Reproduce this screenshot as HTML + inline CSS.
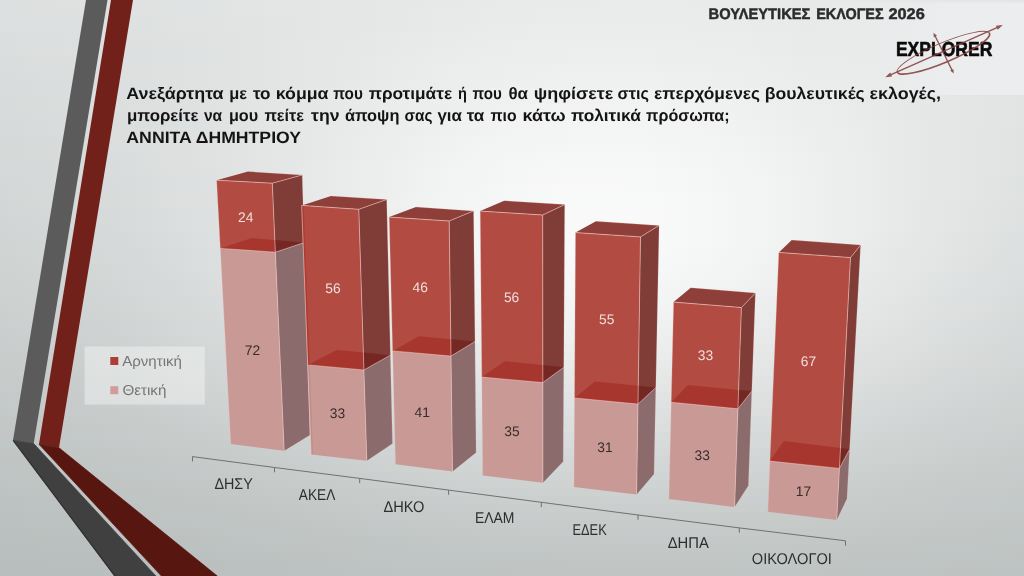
<!DOCTYPE html>
<html lang="el"><head><meta charset="utf-8"><title>ΒΟΥΛΕΥΤΙΚΕΣ ΕΚΛΟΓΕΣ 2026</title>
<style>
html,body{margin:0;padding:0;}
body{width:1024px;height:576px;overflow:hidden;position:relative;font-family:"Liberation Sans",sans-serif;
background:#d6d8d8;}
svg{position:absolute;left:0;top:0;will-change:transform;}
text{font-family:"Liberation Sans",sans-serif;text-rendering:geometricPrecision;}
</style></head><body>
<svg width="1024" height="576" viewBox="0 0 1024 576">
<defs><linearGradient id="b0" x1="0" y1="0" x2="1" y2="0"><stop offset="0.0000" stop-color="#dde0e0"/><stop offset="0.0625" stop-color="#dee1e0"/><stop offset="0.1250" stop-color="#dfe2e1"/><stop offset="0.1875" stop-color="#e1e3e3"/><stop offset="0.2500" stop-color="#e2e5e4"/><stop offset="0.3125" stop-color="#e4e6e6"/><stop offset="0.3750" stop-color="#e6e8e8"/><stop offset="0.4375" stop-color="#e7e9e9"/><stop offset="0.5000" stop-color="#e9ebea"/><stop offset="0.5625" stop-color="#e9ebeb"/><stop offset="0.6250" stop-color="#eaebeb"/><stop offset="0.6875" stop-color="#e9ebeb"/><stop offset="0.7500" stop-color="#e8eaea"/><stop offset="0.8125" stop-color="#e7e9e9"/><stop offset="0.8750" stop-color="#e6e8e8"/><stop offset="0.9375" stop-color="#e5e7e7"/><stop offset="1.0000" stop-color="#e4e6e6"/></linearGradient><linearGradient id="b1" x1="0" y1="0" x2="1" y2="0"><stop offset="0.0000" stop-color="#dde0df"/><stop offset="0.0625" stop-color="#dee0e0"/><stop offset="0.1250" stop-color="#dfe2e1"/><stop offset="0.1875" stop-color="#e0e3e3"/><stop offset="0.2500" stop-color="#e2e5e4"/><stop offset="0.3125" stop-color="#e4e6e6"/><stop offset="0.3750" stop-color="#e6e8e8"/><stop offset="0.4375" stop-color="#e8eae9"/><stop offset="0.5000" stop-color="#e9ebeb"/><stop offset="0.5625" stop-color="#eaeceb"/><stop offset="0.6250" stop-color="#eaeceb"/><stop offset="0.6875" stop-color="#eaebeb"/><stop offset="0.7500" stop-color="#e9ebea"/><stop offset="0.8125" stop-color="#e7e9e9"/><stop offset="0.8750" stop-color="#e6e8e8"/><stop offset="0.9375" stop-color="#e5e7e7"/><stop offset="1.0000" stop-color="#e4e6e6"/></linearGradient><linearGradient id="b2" x1="0" y1="0" x2="1" y2="0"><stop offset="0.0000" stop-color="#dcdfdf"/><stop offset="0.0625" stop-color="#dde0e0"/><stop offset="0.1250" stop-color="#dfe1e1"/><stop offset="0.1875" stop-color="#e0e3e2"/><stop offset="0.2500" stop-color="#e2e4e4"/><stop offset="0.3125" stop-color="#e4e6e6"/><stop offset="0.3750" stop-color="#e6e8e8"/><stop offset="0.4375" stop-color="#e8eaea"/><stop offset="0.5000" stop-color="#e9ebeb"/><stop offset="0.5625" stop-color="#eaecec"/><stop offset="0.6250" stop-color="#eaecec"/><stop offset="0.6875" stop-color="#eaeceb"/><stop offset="0.7500" stop-color="#e9ebea"/><stop offset="0.8125" stop-color="#e8e9e9"/><stop offset="0.8750" stop-color="#e6e8e8"/><stop offset="0.9375" stop-color="#e5e7e7"/><stop offset="1.0000" stop-color="#e4e6e5"/></linearGradient><linearGradient id="b3" x1="0" y1="0" x2="1" y2="0"><stop offset="0.0000" stop-color="#dcdfde"/><stop offset="0.0625" stop-color="#dde0df"/><stop offset="0.1250" stop-color="#dee1e1"/><stop offset="0.1875" stop-color="#e0e3e2"/><stop offset="0.2500" stop-color="#e2e4e4"/><stop offset="0.3125" stop-color="#e4e6e6"/><stop offset="0.3750" stop-color="#e6e8e8"/><stop offset="0.4375" stop-color="#e8eaea"/><stop offset="0.5000" stop-color="#eaeceb"/><stop offset="0.5625" stop-color="#ebecec"/><stop offset="0.6250" stop-color="#ebedec"/><stop offset="0.6875" stop-color="#eaecec"/><stop offset="0.7500" stop-color="#e9ebeb"/><stop offset="0.8125" stop-color="#e8eae9"/><stop offset="0.8750" stop-color="#e6e8e8"/><stop offset="0.9375" stop-color="#e5e7e6"/><stop offset="1.0000" stop-color="#e3e6e5"/></linearGradient><linearGradient id="b4" x1="0" y1="0" x2="1" y2="0"><stop offset="0.0000" stop-color="#dbdede"/><stop offset="0.0625" stop-color="#dddfdf"/><stop offset="0.1250" stop-color="#dee1e0"/><stop offset="0.1875" stop-color="#e0e2e2"/><stop offset="0.2500" stop-color="#e2e4e4"/><stop offset="0.3125" stop-color="#e4e6e6"/><stop offset="0.3750" stop-color="#e7e9e8"/><stop offset="0.4375" stop-color="#e9ebea"/><stop offset="0.5000" stop-color="#eaecec"/><stop offset="0.5625" stop-color="#ebeded"/><stop offset="0.6250" stop-color="#ebeded"/><stop offset="0.6875" stop-color="#ebecec"/><stop offset="0.7500" stop-color="#eaebeb"/><stop offset="0.8125" stop-color="#e8eaea"/><stop offset="0.8750" stop-color="#e6e8e8"/><stop offset="0.9375" stop-color="#e4e7e6"/><stop offset="1.0000" stop-color="#e3e5e5"/></linearGradient><linearGradient id="b5" x1="0" y1="0" x2="1" y2="0"><stop offset="0.0000" stop-color="#dbdede"/><stop offset="0.0625" stop-color="#dcdfdf"/><stop offset="0.1250" stop-color="#dee0e0"/><stop offset="0.1875" stop-color="#e0e2e2"/><stop offset="0.2500" stop-color="#e2e4e4"/><stop offset="0.3125" stop-color="#e4e7e6"/><stop offset="0.3750" stop-color="#e7e9e9"/><stop offset="0.4375" stop-color="#e9ebeb"/><stop offset="0.5000" stop-color="#ebedec"/><stop offset="0.5625" stop-color="#eceded"/><stop offset="0.6250" stop-color="#eceeed"/><stop offset="0.6875" stop-color="#ebeded"/><stop offset="0.7500" stop-color="#eaeceb"/><stop offset="0.8125" stop-color="#e8eaea"/><stop offset="0.8750" stop-color="#e6e8e8"/><stop offset="0.9375" stop-color="#e4e7e6"/><stop offset="1.0000" stop-color="#e3e5e5"/></linearGradient><linearGradient id="b6" x1="0" y1="0" x2="1" y2="0"><stop offset="0.0000" stop-color="#dbdedd"/><stop offset="0.0625" stop-color="#dcdfde"/><stop offset="0.1250" stop-color="#dde0e0"/><stop offset="0.1875" stop-color="#e0e2e2"/><stop offset="0.2500" stop-color="#e2e4e4"/><stop offset="0.3125" stop-color="#e5e7e6"/><stop offset="0.3750" stop-color="#e7e9e9"/><stop offset="0.4375" stop-color="#eaebeb"/><stop offset="0.5000" stop-color="#ebeded"/><stop offset="0.5625" stop-color="#edeeee"/><stop offset="0.6250" stop-color="#edeeee"/><stop offset="0.6875" stop-color="#eceded"/><stop offset="0.7500" stop-color="#eaecec"/><stop offset="0.8125" stop-color="#e8eaea"/><stop offset="0.8750" stop-color="#e6e8e8"/><stop offset="0.9375" stop-color="#e4e7e6"/><stop offset="1.0000" stop-color="#e3e5e5"/></linearGradient><linearGradient id="b7" x1="0" y1="0" x2="1" y2="0"><stop offset="0.0000" stop-color="#dadddd"/><stop offset="0.0625" stop-color="#dcdede"/><stop offset="0.1250" stop-color="#dde0e0"/><stop offset="0.1875" stop-color="#dfe2e2"/><stop offset="0.2500" stop-color="#e2e4e4"/><stop offset="0.3125" stop-color="#e5e7e7"/><stop offset="0.3750" stop-color="#e8eae9"/><stop offset="0.4375" stop-color="#eaecec"/><stop offset="0.5000" stop-color="#eceeed"/><stop offset="0.5625" stop-color="#edefee"/><stop offset="0.6250" stop-color="#edefee"/><stop offset="0.6875" stop-color="#eceeee"/><stop offset="0.7500" stop-color="#ebecec"/><stop offset="0.8125" stop-color="#e9eaea"/><stop offset="0.8750" stop-color="#e6e8e8"/><stop offset="0.9375" stop-color="#e4e6e6"/><stop offset="1.0000" stop-color="#e2e5e4"/></linearGradient><linearGradient id="b8" x1="0" y1="0" x2="1" y2="0"><stop offset="0.0000" stop-color="#dadddc"/><stop offset="0.0625" stop-color="#dbdede"/><stop offset="0.1250" stop-color="#dde0df"/><stop offset="0.1875" stop-color="#dfe2e1"/><stop offset="0.2500" stop-color="#e2e4e4"/><stop offset="0.3125" stop-color="#e5e7e7"/><stop offset="0.3750" stop-color="#e8eaea"/><stop offset="0.4375" stop-color="#ebecec"/><stop offset="0.5000" stop-color="#edeeee"/><stop offset="0.5625" stop-color="#eeefef"/><stop offset="0.6250" stop-color="#eeefef"/><stop offset="0.6875" stop-color="#edeeee"/><stop offset="0.7500" stop-color="#ebeded"/><stop offset="0.8125" stop-color="#e9ebea"/><stop offset="0.8750" stop-color="#e7e9e8"/><stop offset="0.9375" stop-color="#e4e6e6"/><stop offset="1.0000" stop-color="#e2e5e4"/></linearGradient><linearGradient id="b9" x1="0" y1="0" x2="1" y2="0"><stop offset="0.0000" stop-color="#d9dcdc"/><stop offset="0.0625" stop-color="#dbdedd"/><stop offset="0.1250" stop-color="#dde0df"/><stop offset="0.1875" stop-color="#dfe2e1"/><stop offset="0.2500" stop-color="#e2e4e4"/><stop offset="0.3125" stop-color="#e5e7e7"/><stop offset="0.3750" stop-color="#e8eaea"/><stop offset="0.4375" stop-color="#ebeded"/><stop offset="0.5000" stop-color="#edefef"/><stop offset="0.5625" stop-color="#eff0f0"/><stop offset="0.6250" stop-color="#eff0f0"/><stop offset="0.6875" stop-color="#eeefef"/><stop offset="0.7500" stop-color="#eceded"/><stop offset="0.8125" stop-color="#e9ebeb"/><stop offset="0.8750" stop-color="#e7e9e8"/><stop offset="0.9375" stop-color="#e4e6e6"/><stop offset="1.0000" stop-color="#e2e4e4"/></linearGradient><linearGradient id="b10" x1="0" y1="0" x2="1" y2="0"><stop offset="0.0000" stop-color="#d9dcdc"/><stop offset="0.0625" stop-color="#dadddd"/><stop offset="0.1250" stop-color="#dcdfdf"/><stop offset="0.1875" stop-color="#dfe2e1"/><stop offset="0.2500" stop-color="#e2e4e4"/><stop offset="0.3125" stop-color="#e5e7e7"/><stop offset="0.3750" stop-color="#e9ebea"/><stop offset="0.4375" stop-color="#eceded"/><stop offset="0.5000" stop-color="#eeefef"/><stop offset="0.5625" stop-color="#eff1f0"/><stop offset="0.6250" stop-color="#eff1f0"/><stop offset="0.6875" stop-color="#eef0ef"/><stop offset="0.7500" stop-color="#eceeed"/><stop offset="0.8125" stop-color="#eaebeb"/><stop offset="0.8750" stop-color="#e7e9e8"/><stop offset="0.9375" stop-color="#e4e6e6"/><stop offset="1.0000" stop-color="#e2e4e4"/></linearGradient><linearGradient id="b11" x1="0" y1="0" x2="1" y2="0"><stop offset="0.0000" stop-color="#d9dcdb"/><stop offset="0.0625" stop-color="#dadddd"/><stop offset="0.1250" stop-color="#dcdfdf"/><stop offset="0.1875" stop-color="#dfe2e1"/><stop offset="0.2500" stop-color="#e2e4e4"/><stop offset="0.3125" stop-color="#e6e8e7"/><stop offset="0.3750" stop-color="#e9ebeb"/><stop offset="0.4375" stop-color="#eceeee"/><stop offset="0.5000" stop-color="#eff0f0"/><stop offset="0.5625" stop-color="#f0f1f1"/><stop offset="0.6250" stop-color="#f0f1f1"/><stop offset="0.6875" stop-color="#eff0f0"/><stop offset="0.7500" stop-color="#edeeee"/><stop offset="0.8125" stop-color="#eaeceb"/><stop offset="0.8750" stop-color="#e7e9e9"/><stop offset="0.9375" stop-color="#e4e6e6"/><stop offset="1.0000" stop-color="#e2e4e4"/></linearGradient><linearGradient id="b12" x1="0" y1="0" x2="1" y2="0"><stop offset="0.0000" stop-color="#d8dbdb"/><stop offset="0.0625" stop-color="#dadddc"/><stop offset="0.1250" stop-color="#dcdfde"/><stop offset="0.1875" stop-color="#dfe1e1"/><stop offset="0.2500" stop-color="#e2e5e4"/><stop offset="0.3125" stop-color="#e6e8e8"/><stop offset="0.3750" stop-color="#eaebeb"/><stop offset="0.4375" stop-color="#edeeee"/><stop offset="0.5000" stop-color="#eff1f0"/><stop offset="0.5625" stop-color="#f1f2f2"/><stop offset="0.6250" stop-color="#f1f2f2"/><stop offset="0.6875" stop-color="#f0f1f1"/><stop offset="0.7500" stop-color="#edefee"/><stop offset="0.8125" stop-color="#eaecec"/><stop offset="0.8750" stop-color="#e7e9e9"/><stop offset="0.9375" stop-color="#e4e6e6"/><stop offset="1.0000" stop-color="#e2e4e4"/></linearGradient><linearGradient id="b13" x1="0" y1="0" x2="1" y2="0"><stop offset="0.0000" stop-color="#d8dbda"/><stop offset="0.0625" stop-color="#d9dddc"/><stop offset="0.1250" stop-color="#dcdfde"/><stop offset="0.1875" stop-color="#dfe1e1"/><stop offset="0.2500" stop-color="#e2e5e4"/><stop offset="0.3125" stop-color="#e6e8e8"/><stop offset="0.3750" stop-color="#eaeceb"/><stop offset="0.4375" stop-color="#edefef"/><stop offset="0.5000" stop-color="#f0f1f1"/><stop offset="0.5625" stop-color="#f2f3f2"/><stop offset="0.6250" stop-color="#f2f3f2"/><stop offset="0.6875" stop-color="#f0f1f1"/><stop offset="0.7500" stop-color="#eeefef"/><stop offset="0.8125" stop-color="#ebecec"/><stop offset="0.8750" stop-color="#e7e9e9"/><stop offset="0.9375" stop-color="#e4e6e6"/><stop offset="1.0000" stop-color="#e1e4e3"/></linearGradient><linearGradient id="b14" x1="0" y1="0" x2="1" y2="0"><stop offset="0.0000" stop-color="#d7dbda"/><stop offset="0.0625" stop-color="#d9dcdc"/><stop offset="0.1250" stop-color="#dcdede"/><stop offset="0.1875" stop-color="#dfe1e1"/><stop offset="0.2500" stop-color="#e2e5e4"/><stop offset="0.3125" stop-color="#e6e8e8"/><stop offset="0.3750" stop-color="#eaecec"/><stop offset="0.4375" stop-color="#eeefef"/><stop offset="0.5000" stop-color="#f1f2f2"/><stop offset="0.5625" stop-color="#f2f3f3"/><stop offset="0.6250" stop-color="#f2f3f3"/><stop offset="0.6875" stop-color="#f1f2f2"/><stop offset="0.7500" stop-color="#eef0ef"/><stop offset="0.8125" stop-color="#ebedec"/><stop offset="0.8750" stop-color="#e7e9e9"/><stop offset="0.9375" stop-color="#e4e6e6"/><stop offset="1.0000" stop-color="#e1e4e3"/></linearGradient><linearGradient id="b15" x1="0" y1="0" x2="1" y2="0"><stop offset="0.0000" stop-color="#d7dada"/><stop offset="0.0625" stop-color="#d9dcdb"/><stop offset="0.1250" stop-color="#dbdede"/><stop offset="0.1875" stop-color="#dee1e1"/><stop offset="0.2500" stop-color="#e2e5e4"/><stop offset="0.3125" stop-color="#e7e9e8"/><stop offset="0.3750" stop-color="#ebecec"/><stop offset="0.4375" stop-color="#eff0f0"/><stop offset="0.5000" stop-color="#f2f3f2"/><stop offset="0.5625" stop-color="#f3f4f4"/><stop offset="0.6250" stop-color="#f3f4f4"/><stop offset="0.6875" stop-color="#f2f3f2"/><stop offset="0.7500" stop-color="#eff0f0"/><stop offset="0.8125" stop-color="#ebeded"/><stop offset="0.8750" stop-color="#e8eae9"/><stop offset="0.9375" stop-color="#e4e6e6"/><stop offset="1.0000" stop-color="#e1e4e3"/></linearGradient><linearGradient id="b16" x1="0" y1="0" x2="1" y2="0"><stop offset="0.0000" stop-color="#d6dad9"/><stop offset="0.0625" stop-color="#d8dcdb"/><stop offset="0.1250" stop-color="#dbdedd"/><stop offset="0.1875" stop-color="#dee1e1"/><stop offset="0.2500" stop-color="#e2e5e4"/><stop offset="0.3125" stop-color="#e7e9e8"/><stop offset="0.3750" stop-color="#ebeded"/><stop offset="0.4375" stop-color="#eff1f0"/><stop offset="0.5000" stop-color="#f2f3f3"/><stop offset="0.5625" stop-color="#f4f5f5"/><stop offset="0.6250" stop-color="#f4f5f5"/><stop offset="0.6875" stop-color="#f2f3f3"/><stop offset="0.7500" stop-color="#eff1f0"/><stop offset="0.8125" stop-color="#eceded"/><stop offset="0.8750" stop-color="#e8eae9"/><stop offset="0.9375" stop-color="#e4e6e6"/><stop offset="1.0000" stop-color="#e1e3e3"/></linearGradient><linearGradient id="b17" x1="0" y1="0" x2="1" y2="0"><stop offset="0.0000" stop-color="#d6d9d9"/><stop offset="0.0625" stop-color="#d8dbdb"/><stop offset="0.1250" stop-color="#dbdedd"/><stop offset="0.1875" stop-color="#dee1e0"/><stop offset="0.2500" stop-color="#e2e5e4"/><stop offset="0.3125" stop-color="#e7e9e9"/><stop offset="0.3750" stop-color="#eceded"/><stop offset="0.4375" stop-color="#f0f1f1"/><stop offset="0.5000" stop-color="#f3f4f4"/><stop offset="0.5625" stop-color="#f5f5f5"/><stop offset="0.6250" stop-color="#f4f5f5"/><stop offset="0.6875" stop-color="#f3f4f4"/><stop offset="0.7500" stop-color="#f0f1f1"/><stop offset="0.8125" stop-color="#eceeed"/><stop offset="0.8750" stop-color="#e8eae9"/><stop offset="0.9375" stop-color="#e4e6e6"/><stop offset="1.0000" stop-color="#e1e3e3"/></linearGradient><linearGradient id="b18" x1="0" y1="0" x2="1" y2="0"><stop offset="0.0000" stop-color="#d6d9d8"/><stop offset="0.0625" stop-color="#d8dbda"/><stop offset="0.1250" stop-color="#dbdedd"/><stop offset="0.1875" stop-color="#dee1e0"/><stop offset="0.2500" stop-color="#e2e5e4"/><stop offset="0.3125" stop-color="#e7e9e9"/><stop offset="0.3750" stop-color="#eceeed"/><stop offset="0.4375" stop-color="#f0f2f1"/><stop offset="0.5000" stop-color="#f4f4f4"/><stop offset="0.5625" stop-color="#f5f6f6"/><stop offset="0.6250" stop-color="#f5f6f6"/><stop offset="0.6875" stop-color="#f3f4f4"/><stop offset="0.7500" stop-color="#f0f1f1"/><stop offset="0.8125" stop-color="#eceeee"/><stop offset="0.8750" stop-color="#e8eaea"/><stop offset="0.9375" stop-color="#e4e6e6"/><stop offset="1.0000" stop-color="#e1e3e3"/></linearGradient><linearGradient id="b19" x1="0" y1="0" x2="1" y2="0"><stop offset="0.0000" stop-color="#d5d9d8"/><stop offset="0.0625" stop-color="#d7dbda"/><stop offset="0.1250" stop-color="#dadddd"/><stop offset="0.1875" stop-color="#dee1e0"/><stop offset="0.2500" stop-color="#e2e5e4"/><stop offset="0.3125" stop-color="#e7e9e9"/><stop offset="0.3750" stop-color="#eceeee"/><stop offset="0.4375" stop-color="#f1f2f2"/><stop offset="0.5000" stop-color="#f4f5f5"/><stop offset="0.5625" stop-color="#f6f7f7"/><stop offset="0.6250" stop-color="#f6f7f6"/><stop offset="0.6875" stop-color="#f4f5f5"/><stop offset="0.7500" stop-color="#f1f2f2"/><stop offset="0.8125" stop-color="#edeeee"/><stop offset="0.8750" stop-color="#e8eaea"/><stop offset="0.9375" stop-color="#e4e6e6"/><stop offset="1.0000" stop-color="#e0e3e2"/></linearGradient><linearGradient id="b20" x1="0" y1="0" x2="1" y2="0"><stop offset="0.0000" stop-color="#d5d8d8"/><stop offset="0.0625" stop-color="#d7dada"/><stop offset="0.1250" stop-color="#dadddd"/><stop offset="0.1875" stop-color="#dee1e0"/><stop offset="0.2500" stop-color="#e2e5e4"/><stop offset="0.3125" stop-color="#e8e9e9"/><stop offset="0.3750" stop-color="#edeeee"/><stop offset="0.4375" stop-color="#f1f2f2"/><stop offset="0.5000" stop-color="#f5f6f5"/><stop offset="0.5625" stop-color="#f6f7f7"/><stop offset="0.6250" stop-color="#f6f7f7"/><stop offset="0.6875" stop-color="#f4f5f5"/><stop offset="0.7500" stop-color="#f1f2f2"/><stop offset="0.8125" stop-color="#edeeee"/><stop offset="0.8750" stop-color="#e8eaea"/><stop offset="0.9375" stop-color="#e4e6e6"/><stop offset="1.0000" stop-color="#e0e3e2"/></linearGradient><linearGradient id="b21" x1="0" y1="0" x2="1" y2="0"><stop offset="0.0000" stop-color="#d4d8d7"/><stop offset="0.0625" stop-color="#d7dad9"/><stop offset="0.1250" stop-color="#dadddc"/><stop offset="0.1875" stop-color="#dee0e0"/><stop offset="0.2500" stop-color="#e2e5e4"/><stop offset="0.3125" stop-color="#e8eae9"/><stop offset="0.3750" stop-color="#edeeee"/><stop offset="0.4375" stop-color="#f2f3f3"/><stop offset="0.5000" stop-color="#f5f6f6"/><stop offset="0.5625" stop-color="#f7f8f8"/><stop offset="0.6250" stop-color="#f7f8f7"/><stop offset="0.6875" stop-color="#f5f6f6"/><stop offset="0.7500" stop-color="#f1f3f2"/><stop offset="0.8125" stop-color="#edefee"/><stop offset="0.8750" stop-color="#e8eaea"/><stop offset="0.9375" stop-color="#e4e6e6"/><stop offset="1.0000" stop-color="#e0e3e2"/></linearGradient><linearGradient id="b22" x1="0" y1="0" x2="1" y2="0"><stop offset="0.0000" stop-color="#d4d7d7"/><stop offset="0.0625" stop-color="#d6dad9"/><stop offset="0.1250" stop-color="#d9dcdc"/><stop offset="0.1875" stop-color="#dde0e0"/><stop offset="0.2500" stop-color="#e2e5e4"/><stop offset="0.3125" stop-color="#e8eae9"/><stop offset="0.3750" stop-color="#edefee"/><stop offset="0.4375" stop-color="#f2f3f3"/><stop offset="0.5000" stop-color="#f6f6f6"/><stop offset="0.5625" stop-color="#f8f8f8"/><stop offset="0.6250" stop-color="#f7f8f8"/><stop offset="0.6875" stop-color="#f5f6f6"/><stop offset="0.7500" stop-color="#f2f3f3"/><stop offset="0.8125" stop-color="#edefee"/><stop offset="0.8750" stop-color="#e8eaea"/><stop offset="0.9375" stop-color="#e4e6e6"/><stop offset="1.0000" stop-color="#e0e2e2"/></linearGradient><linearGradient id="b23" x1="0" y1="0" x2="1" y2="0"><stop offset="0.0000" stop-color="#d3d7d6"/><stop offset="0.0625" stop-color="#d6d9d9"/><stop offset="0.1250" stop-color="#d9dcdc"/><stop offset="0.1875" stop-color="#dde0e0"/><stop offset="0.2500" stop-color="#e2e5e4"/><stop offset="0.3125" stop-color="#e8eae9"/><stop offset="0.3750" stop-color="#edefef"/><stop offset="0.4375" stop-color="#f2f3f3"/><stop offset="0.5000" stop-color="#f6f7f7"/><stop offset="0.5625" stop-color="#f8f9f8"/><stop offset="0.6250" stop-color="#f8f8f8"/><stop offset="0.6875" stop-color="#f6f6f6"/><stop offset="0.7500" stop-color="#f2f3f3"/><stop offset="0.8125" stop-color="#edefef"/><stop offset="0.8750" stop-color="#e8eaea"/><stop offset="0.9375" stop-color="#e4e6e5"/><stop offset="1.0000" stop-color="#dfe2e2"/></linearGradient><linearGradient id="b24" x1="0" y1="0" x2="1" y2="0"><stop offset="0.0000" stop-color="#d3d7d6"/><stop offset="0.0625" stop-color="#d5d9d8"/><stop offset="0.1250" stop-color="#d9dcdb"/><stop offset="0.1875" stop-color="#dde0df"/><stop offset="0.2500" stop-color="#e2e4e4"/><stop offset="0.3125" stop-color="#e8eae9"/><stop offset="0.3750" stop-color="#edefef"/><stop offset="0.4375" stop-color="#f3f4f3"/><stop offset="0.5000" stop-color="#f6f7f7"/><stop offset="0.5625" stop-color="#f8f9f9"/><stop offset="0.6250" stop-color="#f8f9f9"/><stop offset="0.6875" stop-color="#f6f7f7"/><stop offset="0.7500" stop-color="#f2f3f3"/><stop offset="0.8125" stop-color="#edefef"/><stop offset="0.8750" stop-color="#e8eaea"/><stop offset="0.9375" stop-color="#e3e6e5"/><stop offset="1.0000" stop-color="#dfe2e1"/></linearGradient><linearGradient id="b25" x1="0" y1="0" x2="1" y2="0"><stop offset="0.0000" stop-color="#d3d6d6"/><stop offset="0.0625" stop-color="#d5d9d8"/><stop offset="0.1250" stop-color="#d8dcdb"/><stop offset="0.1875" stop-color="#dde0df"/><stop offset="0.2500" stop-color="#e2e4e4"/><stop offset="0.3125" stop-color="#e8eae9"/><stop offset="0.3750" stop-color="#eeefef"/><stop offset="0.4375" stop-color="#f3f4f4"/><stop offset="0.5000" stop-color="#f7f7f7"/><stop offset="0.5625" stop-color="#f9f9f9"/><stop offset="0.6250" stop-color="#f8f9f9"/><stop offset="0.6875" stop-color="#f6f7f7"/><stop offset="0.7500" stop-color="#f2f3f3"/><stop offset="0.8125" stop-color="#edefef"/><stop offset="0.8750" stop-color="#e8eaea"/><stop offset="0.9375" stop-color="#e3e5e5"/><stop offset="1.0000" stop-color="#dfe2e1"/></linearGradient><linearGradient id="b26" x1="0" y1="0" x2="1" y2="0"><stop offset="0.0000" stop-color="#d2d6d5"/><stop offset="0.0625" stop-color="#d5d8d8"/><stop offset="0.1250" stop-color="#d8dbdb"/><stop offset="0.1875" stop-color="#dcdfdf"/><stop offset="0.2500" stop-color="#e2e4e4"/><stop offset="0.3125" stop-color="#e8eae9"/><stop offset="0.3750" stop-color="#edefef"/><stop offset="0.4375" stop-color="#f3f4f4"/><stop offset="0.5000" stop-color="#f7f7f7"/><stop offset="0.5625" stop-color="#f9f9f9"/><stop offset="0.6250" stop-color="#f9f9f9"/><stop offset="0.6875" stop-color="#f6f7f7"/><stop offset="0.7500" stop-color="#f2f3f3"/><stop offset="0.8125" stop-color="#edefef"/><stop offset="0.8750" stop-color="#e8eaea"/><stop offset="0.9375" stop-color="#e3e5e5"/><stop offset="1.0000" stop-color="#dfe1e1"/></linearGradient><linearGradient id="b27" x1="0" y1="0" x2="1" y2="0"><stop offset="0.0000" stop-color="#d2d5d5"/><stop offset="0.0625" stop-color="#d4d8d7"/><stop offset="0.1250" stop-color="#d8dbda"/><stop offset="0.1875" stop-color="#dcdfdf"/><stop offset="0.2500" stop-color="#e1e4e4"/><stop offset="0.3125" stop-color="#e7e9e9"/><stop offset="0.3750" stop-color="#edefef"/><stop offset="0.4375" stop-color="#f3f4f4"/><stop offset="0.5000" stop-color="#f7f7f7"/><stop offset="0.5625" stop-color="#f9f9f9"/><stop offset="0.6250" stop-color="#f9f9f9"/><stop offset="0.6875" stop-color="#f6f7f7"/><stop offset="0.7500" stop-color="#f2f3f3"/><stop offset="0.8125" stop-color="#edefee"/><stop offset="0.8750" stop-color="#e8eae9"/><stop offset="0.9375" stop-color="#e3e5e5"/><stop offset="1.0000" stop-color="#dee1e0"/></linearGradient><linearGradient id="b28" x1="0" y1="0" x2="1" y2="0"><stop offset="0.0000" stop-color="#d1d5d4"/><stop offset="0.0625" stop-color="#d4d7d7"/><stop offset="0.1250" stop-color="#d7dbda"/><stop offset="0.1875" stop-color="#dcdfde"/><stop offset="0.2500" stop-color="#e1e4e3"/><stop offset="0.3125" stop-color="#e7e9e9"/><stop offset="0.3750" stop-color="#edefee"/><stop offset="0.4375" stop-color="#f3f4f4"/><stop offset="0.5000" stop-color="#f7f7f7"/><stop offset="0.5625" stop-color="#f9f9f9"/><stop offset="0.6250" stop-color="#f9f9f9"/><stop offset="0.6875" stop-color="#f6f7f7"/><stop offset="0.7500" stop-color="#f2f3f3"/><stop offset="0.8125" stop-color="#edefee"/><stop offset="0.8750" stop-color="#e8e9e9"/><stop offset="0.9375" stop-color="#e2e5e4"/><stop offset="1.0000" stop-color="#dee1e0"/></linearGradient><linearGradient id="b29" x1="0" y1="0" x2="1" y2="0"><stop offset="0.0000" stop-color="#d1d4d4"/><stop offset="0.0625" stop-color="#d3d7d6"/><stop offset="0.1250" stop-color="#d7dada"/><stop offset="0.1875" stop-color="#dbdede"/><stop offset="0.2500" stop-color="#e1e3e3"/><stop offset="0.3125" stop-color="#e7e9e9"/><stop offset="0.3750" stop-color="#edefee"/><stop offset="0.4375" stop-color="#f3f4f3"/><stop offset="0.5000" stop-color="#f7f7f7"/><stop offset="0.5625" stop-color="#f9f9f9"/><stop offset="0.6250" stop-color="#f9f9f9"/><stop offset="0.6875" stop-color="#f6f7f7"/><stop offset="0.7500" stop-color="#f2f3f3"/><stop offset="0.8125" stop-color="#edeeee"/><stop offset="0.8750" stop-color="#e7e9e9"/><stop offset="0.9375" stop-color="#e2e4e4"/><stop offset="1.0000" stop-color="#dde0e0"/></linearGradient><linearGradient id="b30" x1="0" y1="0" x2="1" y2="0"><stop offset="0.0000" stop-color="#d0d4d3"/><stop offset="0.0625" stop-color="#d3d6d6"/><stop offset="0.1250" stop-color="#d6dad9"/><stop offset="0.1875" stop-color="#dbdedd"/><stop offset="0.2500" stop-color="#e0e3e3"/><stop offset="0.3125" stop-color="#e7e9e8"/><stop offset="0.3750" stop-color="#edeeee"/><stop offset="0.4375" stop-color="#f2f3f3"/><stop offset="0.5000" stop-color="#f6f7f7"/><stop offset="0.5625" stop-color="#f8f9f9"/><stop offset="0.6250" stop-color="#f8f9f9"/><stop offset="0.6875" stop-color="#f6f7f7"/><stop offset="0.7500" stop-color="#f2f3f3"/><stop offset="0.8125" stop-color="#eceeee"/><stop offset="0.8750" stop-color="#e7e9e9"/><stop offset="0.9375" stop-color="#e2e4e4"/><stop offset="1.0000" stop-color="#dde0df"/></linearGradient><linearGradient id="b31" x1="0" y1="0" x2="1" y2="0"><stop offset="0.0000" stop-color="#d0d4d3"/><stop offset="0.0625" stop-color="#d2d6d5"/><stop offset="0.1250" stop-color="#d6d9d9"/><stop offset="0.1875" stop-color="#dadddd"/><stop offset="0.2500" stop-color="#e0e3e2"/><stop offset="0.3125" stop-color="#e6e8e8"/><stop offset="0.3750" stop-color="#eceeee"/><stop offset="0.4375" stop-color="#f2f3f3"/><stop offset="0.5000" stop-color="#f6f7f7"/><stop offset="0.5625" stop-color="#f8f9f9"/><stop offset="0.6250" stop-color="#f8f9f8"/><stop offset="0.6875" stop-color="#f6f6f6"/><stop offset="0.7500" stop-color="#f1f3f2"/><stop offset="0.8125" stop-color="#eceeed"/><stop offset="0.8750" stop-color="#e6e8e8"/><stop offset="0.9375" stop-color="#e1e4e3"/><stop offset="1.0000" stop-color="#dcdfdf"/></linearGradient><linearGradient id="b32" x1="0" y1="0" x2="1" y2="0"><stop offset="0.0000" stop-color="#cfd3d2"/><stop offset="0.0625" stop-color="#d2d6d5"/><stop offset="0.1250" stop-color="#d5d9d8"/><stop offset="0.1875" stop-color="#dadddd"/><stop offset="0.2500" stop-color="#e0e2e2"/><stop offset="0.3125" stop-color="#e6e8e7"/><stop offset="0.3750" stop-color="#eceded"/><stop offset="0.4375" stop-color="#f1f3f2"/><stop offset="0.5000" stop-color="#f6f6f6"/><stop offset="0.5625" stop-color="#f8f8f8"/><stop offset="0.6250" stop-color="#f8f8f8"/><stop offset="0.6875" stop-color="#f5f6f6"/><stop offset="0.7500" stop-color="#f1f2f2"/><stop offset="0.8125" stop-color="#eceded"/><stop offset="0.8750" stop-color="#e6e8e8"/><stop offset="0.9375" stop-color="#e1e3e3"/><stop offset="1.0000" stop-color="#dcdfde"/></linearGradient><linearGradient id="b33" x1="0" y1="0" x2="1" y2="0"><stop offset="0.0000" stop-color="#cfd3d2"/><stop offset="0.0625" stop-color="#d1d5d4"/><stop offset="0.1250" stop-color="#d5d8d8"/><stop offset="0.1875" stop-color="#d9dddc"/><stop offset="0.2500" stop-color="#dfe2e1"/><stop offset="0.3125" stop-color="#e5e7e7"/><stop offset="0.3750" stop-color="#ebeded"/><stop offset="0.4375" stop-color="#f1f2f2"/><stop offset="0.5000" stop-color="#f5f6f6"/><stop offset="0.5625" stop-color="#f7f8f8"/><stop offset="0.6250" stop-color="#f7f8f8"/><stop offset="0.6875" stop-color="#f5f5f5"/><stop offset="0.7500" stop-color="#f0f2f1"/><stop offset="0.8125" stop-color="#ebedec"/><stop offset="0.8750" stop-color="#e5e8e7"/><stop offset="0.9375" stop-color="#e0e3e2"/><stop offset="1.0000" stop-color="#dbdede"/></linearGradient><linearGradient id="b34" x1="0" y1="0" x2="1" y2="0"><stop offset="0.0000" stop-color="#ced2d1"/><stop offset="0.0625" stop-color="#d1d5d4"/><stop offset="0.1250" stop-color="#d4d8d7"/><stop offset="0.1875" stop-color="#d9dcdc"/><stop offset="0.2500" stop-color="#dee1e1"/><stop offset="0.3125" stop-color="#e5e7e6"/><stop offset="0.3750" stop-color="#ebecec"/><stop offset="0.4375" stop-color="#f0f2f1"/><stop offset="0.5000" stop-color="#f4f5f5"/><stop offset="0.5625" stop-color="#f7f7f7"/><stop offset="0.6250" stop-color="#f6f7f7"/><stop offset="0.6875" stop-color="#f4f5f5"/><stop offset="0.7500" stop-color="#f0f1f1"/><stop offset="0.8125" stop-color="#eaecec"/><stop offset="0.8750" stop-color="#e5e7e7"/><stop offset="0.9375" stop-color="#dfe2e2"/><stop offset="1.0000" stop-color="#dbdedd"/></linearGradient><linearGradient id="b35" x1="0" y1="0" x2="1" y2="0"><stop offset="0.0000" stop-color="#ced2d1"/><stop offset="0.0625" stop-color="#d0d4d3"/><stop offset="0.1250" stop-color="#d4d7d7"/><stop offset="0.1875" stop-color="#d8dbdb"/><stop offset="0.2500" stop-color="#dee1e0"/><stop offset="0.3125" stop-color="#e4e6e6"/><stop offset="0.3750" stop-color="#eaecec"/><stop offset="0.4375" stop-color="#f0f1f1"/><stop offset="0.5000" stop-color="#f4f5f4"/><stop offset="0.5625" stop-color="#f6f7f6"/><stop offset="0.6250" stop-color="#f6f6f6"/><stop offset="0.6875" stop-color="#f3f4f4"/><stop offset="0.7500" stop-color="#eff0f0"/><stop offset="0.8125" stop-color="#eaeceb"/><stop offset="0.8750" stop-color="#e4e6e6"/><stop offset="0.9375" stop-color="#dfe2e1"/><stop offset="1.0000" stop-color="#dadddd"/></linearGradient><linearGradient id="b36" x1="0" y1="0" x2="1" y2="0"><stop offset="0.0000" stop-color="#cdd1d0"/><stop offset="0.0625" stop-color="#d0d3d3"/><stop offset="0.1250" stop-color="#d3d7d6"/><stop offset="0.1875" stop-color="#d8dbda"/><stop offset="0.2500" stop-color="#dde0df"/><stop offset="0.3125" stop-color="#e3e5e5"/><stop offset="0.3750" stop-color="#e9ebeb"/><stop offset="0.4375" stop-color="#eff0f0"/><stop offset="0.5000" stop-color="#f3f4f4"/><stop offset="0.5625" stop-color="#f5f6f6"/><stop offset="0.6250" stop-color="#f5f6f5"/><stop offset="0.6875" stop-color="#f2f3f3"/><stop offset="0.7500" stop-color="#eef0ef"/><stop offset="0.8125" stop-color="#e9ebeb"/><stop offset="0.8750" stop-color="#e3e6e5"/><stop offset="0.9375" stop-color="#dee1e0"/><stop offset="1.0000" stop-color="#dadddc"/></linearGradient><linearGradient id="b37" x1="0" y1="0" x2="1" y2="0"><stop offset="0.0000" stop-color="#ccd1d0"/><stop offset="0.0625" stop-color="#cfd3d2"/><stop offset="0.1250" stop-color="#d2d6d6"/><stop offset="0.1875" stop-color="#d7dada"/><stop offset="0.2500" stop-color="#dcdfdf"/><stop offset="0.3125" stop-color="#e2e5e4"/><stop offset="0.3750" stop-color="#e8eaea"/><stop offset="0.4375" stop-color="#eeefef"/><stop offset="0.5000" stop-color="#f2f3f3"/><stop offset="0.5625" stop-color="#f4f5f5"/><stop offset="0.6250" stop-color="#f4f5f5"/><stop offset="0.6875" stop-color="#f1f3f2"/><stop offset="0.7500" stop-color="#edefef"/><stop offset="0.8125" stop-color="#e8eaea"/><stop offset="0.8750" stop-color="#e3e5e5"/><stop offset="0.9375" stop-color="#dde0e0"/><stop offset="1.0000" stop-color="#d9dcdc"/></linearGradient><linearGradient id="b38" x1="0" y1="0" x2="1" y2="0"><stop offset="0.0000" stop-color="#ccd0cf"/><stop offset="0.0625" stop-color="#ced2d2"/><stop offset="0.1250" stop-color="#d2d6d5"/><stop offset="0.1875" stop-color="#d6dad9"/><stop offset="0.2500" stop-color="#dcdfde"/><stop offset="0.3125" stop-color="#e2e4e4"/><stop offset="0.3750" stop-color="#e8e9e9"/><stop offset="0.4375" stop-color="#edeeee"/><stop offset="0.5000" stop-color="#f1f2f2"/><stop offset="0.5625" stop-color="#f3f4f4"/><stop offset="0.6250" stop-color="#f3f4f4"/><stop offset="0.6875" stop-color="#f0f2f1"/><stop offset="0.7500" stop-color="#eceeee"/><stop offset="0.8125" stop-color="#e7e9e9"/><stop offset="0.8750" stop-color="#e2e4e4"/><stop offset="0.9375" stop-color="#dde0df"/><stop offset="1.0000" stop-color="#d8dcdb"/></linearGradient><linearGradient id="b39" x1="0" y1="0" x2="1" y2="0"><stop offset="0.0000" stop-color="#cbd0cf"/><stop offset="0.0625" stop-color="#ced2d1"/><stop offset="0.1250" stop-color="#d1d5d4"/><stop offset="0.1875" stop-color="#d6d9d8"/><stop offset="0.2500" stop-color="#dbdedd"/><stop offset="0.3125" stop-color="#e1e3e3"/><stop offset="0.3750" stop-color="#e7e9e8"/><stop offset="0.4375" stop-color="#eceded"/><stop offset="0.5000" stop-color="#f0f1f1"/><stop offset="0.5625" stop-color="#f2f3f3"/><stop offset="0.6250" stop-color="#f2f3f2"/><stop offset="0.6875" stop-color="#eff1f0"/><stop offset="0.7500" stop-color="#ebeded"/><stop offset="0.8125" stop-color="#e6e8e8"/><stop offset="0.8750" stop-color="#e1e4e3"/><stop offset="0.9375" stop-color="#dcdfde"/><stop offset="1.0000" stop-color="#d8dbda"/></linearGradient><linearGradient id="b40" x1="0" y1="0" x2="1" y2="0"><stop offset="0.0000" stop-color="#cbcfce"/><stop offset="0.0625" stop-color="#cdd1d1"/><stop offset="0.1250" stop-color="#d0d4d4"/><stop offset="0.1875" stop-color="#d5d8d8"/><stop offset="0.2500" stop-color="#dadddc"/><stop offset="0.3125" stop-color="#e0e2e2"/><stop offset="0.3750" stop-color="#e5e8e7"/><stop offset="0.4375" stop-color="#ebecec"/><stop offset="0.5000" stop-color="#eef0f0"/><stop offset="0.5625" stop-color="#f0f2f1"/><stop offset="0.6250" stop-color="#f0f2f1"/><stop offset="0.6875" stop-color="#eeefef"/><stop offset="0.7500" stop-color="#eaecec"/><stop offset="0.8125" stop-color="#e5e7e7"/><stop offset="0.8750" stop-color="#e0e3e2"/><stop offset="0.9375" stop-color="#dbdede"/><stop offset="1.0000" stop-color="#d7dada"/></linearGradient><linearGradient id="b41" x1="0" y1="0" x2="1" y2="0"><stop offset="0.0000" stop-color="#cacece"/><stop offset="0.0625" stop-color="#ccd1d0"/><stop offset="0.1250" stop-color="#d0d4d3"/><stop offset="0.1875" stop-color="#d4d8d7"/><stop offset="0.2500" stop-color="#d9dcdc"/><stop offset="0.3125" stop-color="#dfe1e1"/><stop offset="0.3750" stop-color="#e4e7e6"/><stop offset="0.4375" stop-color="#e9ebeb"/><stop offset="0.5000" stop-color="#edefee"/><stop offset="0.5625" stop-color="#eff0f0"/><stop offset="0.6250" stop-color="#eff0f0"/><stop offset="0.6875" stop-color="#edeeee"/><stop offset="0.7500" stop-color="#e9ebeb"/><stop offset="0.8125" stop-color="#e4e6e6"/><stop offset="0.8750" stop-color="#dfe2e1"/><stop offset="0.9375" stop-color="#dadddd"/><stop offset="1.0000" stop-color="#d6dad9"/></linearGradient><linearGradient id="b42" x1="0" y1="0" x2="1" y2="0"><stop offset="0.0000" stop-color="#c9cecd"/><stop offset="0.0625" stop-color="#ccd0cf"/><stop offset="0.1250" stop-color="#cfd3d2"/><stop offset="0.1875" stop-color="#d3d7d6"/><stop offset="0.2500" stop-color="#d8dbdb"/><stop offset="0.3125" stop-color="#dee0e0"/><stop offset="0.3750" stop-color="#e3e5e5"/><stop offset="0.4375" stop-color="#e8eaea"/><stop offset="0.5000" stop-color="#eceded"/><stop offset="0.5625" stop-color="#eeefef"/><stop offset="0.6250" stop-color="#eeefef"/><stop offset="0.6875" stop-color="#ebeded"/><stop offset="0.7500" stop-color="#e8eae9"/><stop offset="0.8125" stop-color="#e3e5e5"/><stop offset="0.8750" stop-color="#dee1e0"/><stop offset="0.9375" stop-color="#d9dddc"/><stop offset="1.0000" stop-color="#d5d9d8"/></linearGradient><linearGradient id="b43" x1="0" y1="0" x2="1" y2="0"><stop offset="0.0000" stop-color="#c9cdcd"/><stop offset="0.0625" stop-color="#cbcfcf"/><stop offset="0.1250" stop-color="#ced2d2"/><stop offset="0.1875" stop-color="#d2d6d5"/><stop offset="0.2500" stop-color="#d7dada"/><stop offset="0.3125" stop-color="#dcdfdf"/><stop offset="0.3750" stop-color="#e2e4e4"/><stop offset="0.4375" stop-color="#e7e9e8"/><stop offset="0.5000" stop-color="#eaecec"/><stop offset="0.5625" stop-color="#eceeed"/><stop offset="0.6250" stop-color="#eceeed"/><stop offset="0.6875" stop-color="#eaeceb"/><stop offset="0.7500" stop-color="#e6e8e8"/><stop offset="0.8125" stop-color="#e2e4e4"/><stop offset="0.8750" stop-color="#dde0df"/><stop offset="0.9375" stop-color="#d9dcdb"/><stop offset="1.0000" stop-color="#d5d8d8"/></linearGradient><linearGradient id="b44" x1="0" y1="0" x2="1" y2="0"><stop offset="0.0000" stop-color="#c8cdcc"/><stop offset="0.0625" stop-color="#cacfce"/><stop offset="0.1250" stop-color="#ced2d1"/><stop offset="0.1875" stop-color="#d1d5d5"/><stop offset="0.2500" stop-color="#d6dad9"/><stop offset="0.3125" stop-color="#dbdede"/><stop offset="0.3750" stop-color="#e1e3e3"/><stop offset="0.4375" stop-color="#e5e7e7"/><stop offset="0.5000" stop-color="#e9ebea"/><stop offset="0.5625" stop-color="#ebecec"/><stop offset="0.6250" stop-color="#ebecec"/><stop offset="0.6875" stop-color="#e9eaea"/><stop offset="0.7500" stop-color="#e5e7e7"/><stop offset="0.8125" stop-color="#e1e3e3"/><stop offset="0.8750" stop-color="#dcdfde"/><stop offset="0.9375" stop-color="#d8dbda"/><stop offset="1.0000" stop-color="#d4d7d7"/></linearGradient><linearGradient id="b45" x1="0" y1="0" x2="1" y2="0"><stop offset="0.0000" stop-color="#c8cccb"/><stop offset="0.0625" stop-color="#cacecd"/><stop offset="0.1250" stop-color="#cdd1d0"/><stop offset="0.1875" stop-color="#d1d4d4"/><stop offset="0.2500" stop-color="#d5d9d8"/><stop offset="0.3125" stop-color="#dadddd"/><stop offset="0.3750" stop-color="#dfe2e1"/><stop offset="0.4375" stop-color="#e4e6e6"/><stop offset="0.5000" stop-color="#e7e9e9"/><stop offset="0.5625" stop-color="#e9ebeb"/><stop offset="0.6250" stop-color="#e9ebea"/><stop offset="0.6875" stop-color="#e7e9e9"/><stop offset="0.7500" stop-color="#e4e6e6"/><stop offset="0.8125" stop-color="#dfe2e2"/><stop offset="0.8750" stop-color="#dbdedd"/><stop offset="0.9375" stop-color="#d7dad9"/><stop offset="1.0000" stop-color="#d3d7d6"/></linearGradient><linearGradient id="b46" x1="0" y1="0" x2="1" y2="0"><stop offset="0.0000" stop-color="#c7cccb"/><stop offset="0.0625" stop-color="#c9cecd"/><stop offset="0.1250" stop-color="#ccd0d0"/><stop offset="0.1875" stop-color="#d0d4d3"/><stop offset="0.2500" stop-color="#d4d8d7"/><stop offset="0.3125" stop-color="#d9dcdc"/><stop offset="0.3750" stop-color="#dee1e0"/><stop offset="0.4375" stop-color="#e2e5e4"/><stop offset="0.5000" stop-color="#e6e8e7"/><stop offset="0.5625" stop-color="#e7e9e9"/><stop offset="0.6250" stop-color="#e7e9e9"/><stop offset="0.6875" stop-color="#e5e8e7"/><stop offset="0.7500" stop-color="#e2e5e4"/><stop offset="0.8125" stop-color="#dee1e0"/><stop offset="0.8750" stop-color="#dadddc"/><stop offset="0.9375" stop-color="#d6d9d8"/><stop offset="1.0000" stop-color="#d2d6d5"/></linearGradient><linearGradient id="b47" x1="0" y1="0" x2="1" y2="0"><stop offset="0.0000" stop-color="#c6cbca"/><stop offset="0.0625" stop-color="#c8cdcc"/><stop offset="0.1250" stop-color="#cbcfcf"/><stop offset="0.1875" stop-color="#cfd3d2"/><stop offset="0.2500" stop-color="#d3d7d6"/><stop offset="0.3125" stop-color="#d8dbda"/><stop offset="0.3750" stop-color="#dcdfdf"/><stop offset="0.4375" stop-color="#e1e3e3"/><stop offset="0.5000" stop-color="#e4e6e6"/><stop offset="0.5625" stop-color="#e6e8e7"/><stop offset="0.6250" stop-color="#e6e8e7"/><stop offset="0.6875" stop-color="#e4e6e6"/><stop offset="0.7500" stop-color="#e1e3e3"/><stop offset="0.8125" stop-color="#dde0df"/><stop offset="0.8750" stop-color="#d9dcdb"/><stop offset="0.9375" stop-color="#d5d8d8"/><stop offset="1.0000" stop-color="#d1d5d4"/></linearGradient><linearGradient id="b48" x1="0" y1="0" x2="1" y2="0"><stop offset="0.0000" stop-color="#c6caca"/><stop offset="0.0625" stop-color="#c8cccc"/><stop offset="0.1250" stop-color="#cacfce"/><stop offset="0.1875" stop-color="#ced2d1"/><stop offset="0.2500" stop-color="#d2d6d5"/><stop offset="0.3125" stop-color="#d6dad9"/><stop offset="0.3750" stop-color="#dbdede"/><stop offset="0.4375" stop-color="#dfe2e1"/><stop offset="0.5000" stop-color="#e2e5e4"/><stop offset="0.5625" stop-color="#e4e6e6"/><stop offset="0.6250" stop-color="#e4e6e6"/><stop offset="0.6875" stop-color="#e2e5e4"/><stop offset="0.7500" stop-color="#dfe2e1"/><stop offset="0.8125" stop-color="#dbdede"/><stop offset="0.8750" stop-color="#d7dbda"/><stop offset="0.9375" stop-color="#d4d7d7"/><stop offset="1.0000" stop-color="#d0d4d4"/></linearGradient><linearGradient id="b49" x1="0" y1="0" x2="1" y2="0"><stop offset="0.0000" stop-color="#c5cac9"/><stop offset="0.0625" stop-color="#c7cccb"/><stop offset="0.1250" stop-color="#cacecd"/><stop offset="0.1875" stop-color="#cdd1d0"/><stop offset="0.2500" stop-color="#d1d5d4"/><stop offset="0.3125" stop-color="#d5d9d8"/><stop offset="0.3750" stop-color="#dadddc"/><stop offset="0.4375" stop-color="#dee0e0"/><stop offset="0.5000" stop-color="#e1e3e3"/><stop offset="0.5625" stop-color="#e2e4e4"/><stop offset="0.6250" stop-color="#e2e4e4"/><stop offset="0.6875" stop-color="#e0e3e3"/><stop offset="0.7500" stop-color="#dee0e0"/><stop offset="0.8125" stop-color="#dadddd"/><stop offset="0.8750" stop-color="#d6dad9"/><stop offset="0.9375" stop-color="#d3d6d6"/><stop offset="1.0000" stop-color="#cfd3d3"/></linearGradient><linearGradient id="b50" x1="0" y1="0" x2="1" y2="0"><stop offset="0.0000" stop-color="#c4c9c9"/><stop offset="0.0625" stop-color="#c6cbca"/><stop offset="0.1250" stop-color="#c9cdcd"/><stop offset="0.1875" stop-color="#ccd0cf"/><stop offset="0.2500" stop-color="#d0d4d3"/><stop offset="0.3125" stop-color="#d4d7d7"/><stop offset="0.3750" stop-color="#d8dbdb"/><stop offset="0.4375" stop-color="#dcdfde"/><stop offset="0.5000" stop-color="#dfe1e1"/><stop offset="0.5625" stop-color="#e0e3e2"/><stop offset="0.6250" stop-color="#e0e3e2"/><stop offset="0.6875" stop-color="#dfe1e1"/><stop offset="0.7500" stop-color="#dcdfde"/><stop offset="0.8125" stop-color="#d9dcdb"/><stop offset="0.8750" stop-color="#d5d8d8"/><stop offset="0.9375" stop-color="#d2d5d5"/><stop offset="1.0000" stop-color="#cfd3d2"/></linearGradient><linearGradient id="b51" x1="0" y1="0" x2="1" y2="0"><stop offset="0.0000" stop-color="#c4c9c8"/><stop offset="0.0625" stop-color="#c6caca"/><stop offset="0.1250" stop-color="#c8cdcc"/><stop offset="0.1875" stop-color="#cbcfcf"/><stop offset="0.2500" stop-color="#cfd3d2"/><stop offset="0.3125" stop-color="#d3d6d6"/><stop offset="0.3750" stop-color="#d7dad9"/><stop offset="0.4375" stop-color="#dadddd"/><stop offset="0.5000" stop-color="#dde0df"/><stop offset="0.5625" stop-color="#dee1e1"/><stop offset="0.6250" stop-color="#dee1e1"/><stop offset="0.6875" stop-color="#dde0df"/><stop offset="0.7500" stop-color="#dbdedd"/><stop offset="0.8125" stop-color="#d7dbda"/><stop offset="0.8750" stop-color="#d4d7d7"/><stop offset="0.9375" stop-color="#d1d4d4"/><stop offset="1.0000" stop-color="#ced2d1"/></linearGradient><linearGradient id="b52" x1="0" y1="0" x2="1" y2="0"><stop offset="0.0000" stop-color="#c3c8c7"/><stop offset="0.0625" stop-color="#c5cac9"/><stop offset="0.1250" stop-color="#c7cccb"/><stop offset="0.1875" stop-color="#cacece"/><stop offset="0.2500" stop-color="#ced2d1"/><stop offset="0.3125" stop-color="#d1d5d4"/><stop offset="0.3750" stop-color="#d5d9d8"/><stop offset="0.4375" stop-color="#d9dcdb"/><stop offset="0.5000" stop-color="#dbdede"/><stop offset="0.5625" stop-color="#dddfdf"/><stop offset="0.6250" stop-color="#dde0df"/><stop offset="0.6875" stop-color="#dbdede"/><stop offset="0.7500" stop-color="#d9dcdc"/><stop offset="0.8125" stop-color="#d6d9d9"/><stop offset="0.8750" stop-color="#d3d6d6"/><stop offset="0.9375" stop-color="#cfd3d3"/><stop offset="1.0000" stop-color="#cdd1d0"/></linearGradient><linearGradient id="b53" x1="0" y1="0" x2="1" y2="0"><stop offset="0.0000" stop-color="#c3c8c7"/><stop offset="0.0625" stop-color="#c4c9c8"/><stop offset="0.1250" stop-color="#c6cbca"/><stop offset="0.1875" stop-color="#c9cecd"/><stop offset="0.2500" stop-color="#ccd1d0"/><stop offset="0.3125" stop-color="#d0d4d3"/><stop offset="0.3750" stop-color="#d4d7d7"/><stop offset="0.4375" stop-color="#d7dada"/><stop offset="0.5000" stop-color="#d9dddc"/><stop offset="0.5625" stop-color="#dbdedd"/><stop offset="0.6250" stop-color="#dbdedd"/><stop offset="0.6875" stop-color="#dadddc"/><stop offset="0.7500" stop-color="#d7dbda"/><stop offset="0.8125" stop-color="#d4d8d7"/><stop offset="0.8750" stop-color="#d1d5d5"/><stop offset="0.9375" stop-color="#ced2d2"/><stop offset="1.0000" stop-color="#ccd0cf"/></linearGradient><linearGradient id="b54" x1="0" y1="0" x2="1" y2="0"><stop offset="0.0000" stop-color="#c2c7c6"/><stop offset="0.0625" stop-color="#c3c8c8"/><stop offset="0.1250" stop-color="#c6caca"/><stop offset="0.1875" stop-color="#c8cdcc"/><stop offset="0.2500" stop-color="#cbd0cf"/><stop offset="0.3125" stop-color="#cfd3d2"/><stop offset="0.3750" stop-color="#d2d6d5"/><stop offset="0.4375" stop-color="#d5d9d8"/><stop offset="0.5000" stop-color="#d8dbda"/><stop offset="0.5625" stop-color="#d9dcdc"/><stop offset="0.6250" stop-color="#d9dcdc"/><stop offset="0.6875" stop-color="#d8dbdb"/><stop offset="0.7500" stop-color="#d6d9d9"/><stop offset="0.8125" stop-color="#d3d7d6"/><stop offset="0.8750" stop-color="#d0d4d3"/><stop offset="0.9375" stop-color="#cdd1d1"/><stop offset="1.0000" stop-color="#cbcfcf"/></linearGradient><linearGradient id="b55" x1="0" y1="0" x2="1" y2="0"><stop offset="0.0000" stop-color="#c1c6c6"/><stop offset="0.0625" stop-color="#c3c8c7"/><stop offset="0.1250" stop-color="#c5cac9"/><stop offset="0.1875" stop-color="#c7cccb"/><stop offset="0.2500" stop-color="#cacfce"/><stop offset="0.3125" stop-color="#cdd2d1"/><stop offset="0.3750" stop-color="#d1d5d4"/><stop offset="0.4375" stop-color="#d4d7d7"/><stop offset="0.5000" stop-color="#d6d9d9"/><stop offset="0.5625" stop-color="#d7dbda"/><stop offset="0.6250" stop-color="#d7dbda"/><stop offset="0.6875" stop-color="#d6dad9"/><stop offset="0.7500" stop-color="#d4d8d7"/><stop offset="0.8125" stop-color="#d2d5d5"/><stop offset="0.8750" stop-color="#cfd3d2"/><stop offset="0.9375" stop-color="#ccd1d0"/><stop offset="1.0000" stop-color="#cacfce"/></linearGradient><linearGradient id="b56" x1="0" y1="0" x2="1" y2="0"><stop offset="0.0000" stop-color="#c1c6c5"/><stop offset="0.0625" stop-color="#c2c7c6"/><stop offset="0.1250" stop-color="#c4c9c8"/><stop offset="0.1875" stop-color="#c6cbca"/><stop offset="0.2500" stop-color="#c9cecd"/><stop offset="0.3125" stop-color="#ccd0d0"/><stop offset="0.3750" stop-color="#cfd3d3"/><stop offset="0.4375" stop-color="#d2d6d5"/><stop offset="0.5000" stop-color="#d4d8d7"/><stop offset="0.5625" stop-color="#d5d9d8"/><stop offset="0.6250" stop-color="#d6d9d8"/><stop offset="0.6875" stop-color="#d5d8d7"/><stop offset="0.7500" stop-color="#d3d6d6"/><stop offset="0.8125" stop-color="#d0d4d4"/><stop offset="0.8750" stop-color="#ced2d1"/><stop offset="0.9375" stop-color="#cbd0cf"/><stop offset="1.0000" stop-color="#c9cecd"/></linearGradient><linearGradient id="b57" x1="0" y1="0" x2="1" y2="0"><stop offset="0.0000" stop-color="#c0c5c4"/><stop offset="0.0625" stop-color="#c1c6c6"/><stop offset="0.1250" stop-color="#c3c8c7"/><stop offset="0.1875" stop-color="#c5cac9"/><stop offset="0.2500" stop-color="#c8cdcc"/><stop offset="0.3125" stop-color="#cbcfcf"/><stop offset="0.3750" stop-color="#ced2d1"/><stop offset="0.4375" stop-color="#d1d4d4"/><stop offset="0.5000" stop-color="#d3d6d6"/><stop offset="0.5625" stop-color="#d4d7d7"/><stop offset="0.6250" stop-color="#d4d7d7"/><stop offset="0.6875" stop-color="#d3d7d6"/><stop offset="0.7500" stop-color="#d1d5d4"/><stop offset="0.8125" stop-color="#cfd3d2"/><stop offset="0.8750" stop-color="#cdd1d0"/><stop offset="0.9375" stop-color="#cacfce"/><stop offset="1.0000" stop-color="#c8cdcc"/></linearGradient><linearGradient id="b58" x1="0" y1="0" x2="1" y2="0"><stop offset="0.0000" stop-color="#bfc5c4"/><stop offset="0.0625" stop-color="#c1c6c5"/><stop offset="0.1250" stop-color="#c2c7c7"/><stop offset="0.1875" stop-color="#c4c9c8"/><stop offset="0.2500" stop-color="#c7cccb"/><stop offset="0.3125" stop-color="#cacecd"/><stop offset="0.3750" stop-color="#cdd1d0"/><stop offset="0.4375" stop-color="#cfd3d2"/><stop offset="0.5000" stop-color="#d1d5d4"/><stop offset="0.5625" stop-color="#d2d6d5"/><stop offset="0.6250" stop-color="#d2d6d5"/><stop offset="0.6875" stop-color="#d1d5d4"/><stop offset="0.7500" stop-color="#d0d4d3"/><stop offset="0.8125" stop-color="#ced2d1"/><stop offset="0.8750" stop-color="#cbd0cf"/><stop offset="0.9375" stop-color="#c9cecd"/><stop offset="1.0000" stop-color="#c8cccb"/></linearGradient><linearGradient id="b59" x1="0" y1="0" x2="1" y2="0"><stop offset="0.0000" stop-color="#bfc4c3"/><stop offset="0.0625" stop-color="#c0c5c4"/><stop offset="0.1250" stop-color="#c2c7c6"/><stop offset="0.1875" stop-color="#c4c8c8"/><stop offset="0.2500" stop-color="#c6cbca"/><stop offset="0.3125" stop-color="#c9cdcc"/><stop offset="0.3750" stop-color="#cbcfcf"/><stop offset="0.4375" stop-color="#cdd2d1"/><stop offset="0.5000" stop-color="#cfd3d3"/><stop offset="0.5625" stop-color="#d0d4d4"/><stop offset="0.6250" stop-color="#d0d4d4"/><stop offset="0.6875" stop-color="#d0d4d3"/><stop offset="0.7500" stop-color="#ced2d2"/><stop offset="0.8125" stop-color="#ccd0d0"/><stop offset="0.8750" stop-color="#cacfce"/><stop offset="0.9375" stop-color="#c8cdcc"/><stop offset="1.0000" stop-color="#c7cbcb"/></linearGradient><linearGradient id="b60" x1="0" y1="0" x2="1" y2="0"><stop offset="0.0000" stop-color="#bec4c3"/><stop offset="0.0625" stop-color="#bfc5c4"/><stop offset="0.1250" stop-color="#c1c6c5"/><stop offset="0.1875" stop-color="#c3c8c7"/><stop offset="0.2500" stop-color="#c5cac9"/><stop offset="0.3125" stop-color="#c7cccb"/><stop offset="0.3750" stop-color="#cacecd"/><stop offset="0.4375" stop-color="#ccd0d0"/><stop offset="0.5000" stop-color="#ced2d1"/><stop offset="0.5625" stop-color="#cfd3d2"/><stop offset="0.6250" stop-color="#cfd3d2"/><stop offset="0.6875" stop-color="#ced2d1"/><stop offset="0.7500" stop-color="#cdd1d0"/><stop offset="0.8125" stop-color="#cbcfcf"/><stop offset="0.8750" stop-color="#c9cecd"/><stop offset="0.9375" stop-color="#c7cccb"/><stop offset="1.0000" stop-color="#c6cbca"/></linearGradient><linearGradient id="b61" x1="0" y1="0" x2="1" y2="0"><stop offset="0.0000" stop-color="#bec3c2"/><stop offset="0.0625" stop-color="#bfc4c3"/><stop offset="0.1250" stop-color="#c0c5c4"/><stop offset="0.1875" stop-color="#c2c7c6"/><stop offset="0.2500" stop-color="#c4c9c8"/><stop offset="0.3125" stop-color="#c6cbca"/><stop offset="0.3750" stop-color="#c8cdcc"/><stop offset="0.4375" stop-color="#cbcfce"/><stop offset="0.5000" stop-color="#ccd0d0"/><stop offset="0.5625" stop-color="#cdd1d0"/><stop offset="0.6250" stop-color="#cdd1d1"/><stop offset="0.6875" stop-color="#cdd1d0"/><stop offset="0.7500" stop-color="#cbd0cf"/><stop offset="0.8125" stop-color="#cacecd"/><stop offset="0.8750" stop-color="#c8cdcc"/><stop offset="0.9375" stop-color="#c6cbca"/><stop offset="1.0000" stop-color="#c5cac9"/></linearGradient><linearGradient id="b62" x1="0" y1="0" x2="1" y2="0"><stop offset="0.0000" stop-color="#bdc2c1"/><stop offset="0.0625" stop-color="#bec3c2"/><stop offset="0.1250" stop-color="#bfc5c4"/><stop offset="0.1875" stop-color="#c1c6c5"/><stop offset="0.2500" stop-color="#c3c8c7"/><stop offset="0.3125" stop-color="#c5cac9"/><stop offset="0.3750" stop-color="#c7cccb"/><stop offset="0.4375" stop-color="#c9cecd"/><stop offset="0.5000" stop-color="#cbcfce"/><stop offset="0.5625" stop-color="#cbd0cf"/><stop offset="0.6250" stop-color="#ccd0cf"/><stop offset="0.6875" stop-color="#cbcfcf"/><stop offset="0.7500" stop-color="#cacece"/><stop offset="0.8125" stop-color="#c9cdcc"/><stop offset="0.8750" stop-color="#c7cccb"/><stop offset="0.9375" stop-color="#c5cac9"/><stop offset="1.0000" stop-color="#c4c9c8"/></linearGradient><linearGradient id="b63" x1="0" y1="0" x2="1" y2="0"><stop offset="0.0000" stop-color="#bcc2c1"/><stop offset="0.0625" stop-color="#bdc3c2"/><stop offset="0.1250" stop-color="#bfc4c3"/><stop offset="0.1875" stop-color="#c0c5c4"/><stop offset="0.2500" stop-color="#c2c7c6"/><stop offset="0.3125" stop-color="#c4c9c8"/><stop offset="0.3750" stop-color="#c6cbca"/><stop offset="0.4375" stop-color="#c8cccc"/><stop offset="0.5000" stop-color="#c9cecd"/><stop offset="0.5625" stop-color="#cacece"/><stop offset="0.6250" stop-color="#cacece"/><stop offset="0.6875" stop-color="#cacecd"/><stop offset="0.7500" stop-color="#c9cdcc"/><stop offset="0.8125" stop-color="#c7cccb"/><stop offset="0.8750" stop-color="#c6cbca"/><stop offset="0.9375" stop-color="#c5c9c9"/><stop offset="1.0000" stop-color="#c3c8c8"/></linearGradient><linearGradient id="b64" x1="0" y1="0" x2="1" y2="0"><stop offset="0.0000" stop-color="#bcc1c0"/><stop offset="0.0625" stop-color="#bdc2c1"/><stop offset="0.1250" stop-color="#bec3c2"/><stop offset="0.1875" stop-color="#bfc5c4"/><stop offset="0.2500" stop-color="#c1c6c5"/><stop offset="0.3125" stop-color="#c3c8c7"/><stop offset="0.3750" stop-color="#c5cac9"/><stop offset="0.4375" stop-color="#c6cbca"/><stop offset="0.5000" stop-color="#c8cccc"/><stop offset="0.5625" stop-color="#c8cdcc"/><stop offset="0.6250" stop-color="#c9cdcc"/><stop offset="0.6875" stop-color="#c8cdcc"/><stop offset="0.7500" stop-color="#c7cccb"/><stop offset="0.8125" stop-color="#c6cbca"/><stop offset="0.8750" stop-color="#c5cac9"/><stop offset="0.9375" stop-color="#c4c9c8"/><stop offset="1.0000" stop-color="#c3c8c7"/></linearGradient><linearGradient id="b65" x1="0" y1="0" x2="1" y2="0"><stop offset="0.0000" stop-color="#bbc1c0"/><stop offset="0.0625" stop-color="#bcc2c1"/><stop offset="0.1250" stop-color="#bdc3c2"/><stop offset="0.1875" stop-color="#bec4c3"/><stop offset="0.2500" stop-color="#c0c5c4"/><stop offset="0.3125" stop-color="#c2c7c6"/><stop offset="0.3750" stop-color="#c4c8c8"/><stop offset="0.4375" stop-color="#c5cac9"/><stop offset="0.5000" stop-color="#c6cbca"/><stop offset="0.5625" stop-color="#c7cccb"/><stop offset="0.6250" stop-color="#c7cccb"/><stop offset="0.6875" stop-color="#c7cccb"/><stop offset="0.7500" stop-color="#c6cbca"/><stop offset="0.8125" stop-color="#c5cac9"/><stop offset="0.8750" stop-color="#c4c9c8"/><stop offset="0.9375" stop-color="#c3c8c7"/><stop offset="1.0000" stop-color="#c2c7c6"/></linearGradient><linearGradient id="b66" x1="0" y1="0" x2="1" y2="0"><stop offset="0.0000" stop-color="#bbc0bf"/><stop offset="0.0625" stop-color="#bbc1c0"/><stop offset="0.1250" stop-color="#bcc2c1"/><stop offset="0.1875" stop-color="#bec3c2"/><stop offset="0.2500" stop-color="#bfc4c4"/><stop offset="0.3125" stop-color="#c1c6c5"/><stop offset="0.3750" stop-color="#c2c7c7"/><stop offset="0.4375" stop-color="#c4c9c8"/><stop offset="0.5000" stop-color="#c5cac9"/><stop offset="0.5625" stop-color="#c6caca"/><stop offset="0.6250" stop-color="#c6cbca"/><stop offset="0.6875" stop-color="#c6caca"/><stop offset="0.7500" stop-color="#c5cac9"/><stop offset="0.8125" stop-color="#c4c9c8"/><stop offset="0.8750" stop-color="#c3c8c7"/><stop offset="0.9375" stop-color="#c2c7c6"/><stop offset="1.0000" stop-color="#c1c6c5"/></linearGradient><linearGradient id="b67" x1="0" y1="0" x2="1" y2="0"><stop offset="0.0000" stop-color="#bac0bf"/><stop offset="0.0625" stop-color="#bbc0bf"/><stop offset="0.1250" stop-color="#bcc1c0"/><stop offset="0.1875" stop-color="#bdc2c1"/><stop offset="0.2500" stop-color="#bec4c3"/><stop offset="0.3125" stop-color="#c0c5c4"/><stop offset="0.3750" stop-color="#c1c6c5"/><stop offset="0.4375" stop-color="#c3c8c7"/><stop offset="0.5000" stop-color="#c4c9c8"/><stop offset="0.5625" stop-color="#c4c9c8"/><stop offset="0.6250" stop-color="#c5c9c9"/><stop offset="0.6875" stop-color="#c4c9c8"/><stop offset="0.7500" stop-color="#c4c9c8"/><stop offset="0.8125" stop-color="#c3c8c7"/><stop offset="0.8750" stop-color="#c2c7c6"/><stop offset="0.9375" stop-color="#c1c6c5"/><stop offset="1.0000" stop-color="#c0c6c5"/></linearGradient><linearGradient id="b68" x1="0" y1="0" x2="1" y2="0"><stop offset="0.0000" stop-color="#b9bfbe"/><stop offset="0.0625" stop-color="#bac0bf"/><stop offset="0.1250" stop-color="#bbc1c0"/><stop offset="0.1875" stop-color="#bcc2c1"/><stop offset="0.2500" stop-color="#bdc3c2"/><stop offset="0.3125" stop-color="#bfc4c3"/><stop offset="0.3750" stop-color="#c0c5c4"/><stop offset="0.4375" stop-color="#c1c7c6"/><stop offset="0.5000" stop-color="#c2c7c7"/><stop offset="0.5625" stop-color="#c3c8c7"/><stop offset="0.6250" stop-color="#c3c8c7"/><stop offset="0.6875" stop-color="#c3c8c7"/><stop offset="0.7500" stop-color="#c3c8c7"/><stop offset="0.8125" stop-color="#c2c7c6"/><stop offset="0.8750" stop-color="#c1c6c5"/><stop offset="0.9375" stop-color="#c0c5c5"/><stop offset="1.0000" stop-color="#c0c5c4"/></linearGradient><linearGradient id="b69" x1="0" y1="0" x2="1" y2="0"><stop offset="0.0000" stop-color="#b9bfbe"/><stop offset="0.0625" stop-color="#b9bfbe"/><stop offset="0.1250" stop-color="#bac0bf"/><stop offset="0.1875" stop-color="#bbc1c0"/><stop offset="0.2500" stop-color="#bdc2c1"/><stop offset="0.3125" stop-color="#bec3c2"/><stop offset="0.3750" stop-color="#bfc4c4"/><stop offset="0.4375" stop-color="#c0c5c5"/><stop offset="0.5000" stop-color="#c1c6c5"/><stop offset="0.5625" stop-color="#c2c7c6"/><stop offset="0.6250" stop-color="#c2c7c6"/><stop offset="0.6875" stop-color="#c2c7c6"/><stop offset="0.7500" stop-color="#c1c7c6"/><stop offset="0.8125" stop-color="#c1c6c5"/><stop offset="0.8750" stop-color="#c0c5c4"/><stop offset="0.9375" stop-color="#bfc5c4"/><stop offset="1.0000" stop-color="#bfc4c3"/></linearGradient><linearGradient id="b70" x1="0" y1="0" x2="1" y2="0"><stop offset="0.0000" stop-color="#b8bebd"/><stop offset="0.0625" stop-color="#b9bfbe"/><stop offset="0.1250" stop-color="#babfbe"/><stop offset="0.1875" stop-color="#bbc0bf"/><stop offset="0.2500" stop-color="#bcc1c0"/><stop offset="0.3125" stop-color="#bdc2c1"/><stop offset="0.3750" stop-color="#bec3c3"/><stop offset="0.4375" stop-color="#bfc4c4"/><stop offset="0.5000" stop-color="#c0c5c4"/><stop offset="0.5625" stop-color="#c1c6c5"/><stop offset="0.6250" stop-color="#c1c6c5"/><stop offset="0.6875" stop-color="#c1c6c5"/><stop offset="0.7500" stop-color="#c0c6c5"/><stop offset="0.8125" stop-color="#c0c5c4"/><stop offset="0.8750" stop-color="#bfc4c4"/><stop offset="0.9375" stop-color="#bfc4c3"/><stop offset="1.0000" stop-color="#bec4c3"/></linearGradient><linearGradient id="b71" x1="0" y1="0" x2="1" y2="0"><stop offset="0.0000" stop-color="#b8bdbc"/><stop offset="0.0625" stop-color="#b8bebd"/><stop offset="0.1250" stop-color="#b9bfbe"/><stop offset="0.1875" stop-color="#bac0bf"/><stop offset="0.2500" stop-color="#bbc1c0"/><stop offset="0.3125" stop-color="#bcc2c1"/><stop offset="0.3750" stop-color="#bdc3c2"/><stop offset="0.4375" stop-color="#bec4c3"/><stop offset="0.5000" stop-color="#bfc4c3"/><stop offset="0.5625" stop-color="#c0c5c4"/><stop offset="0.6250" stop-color="#c0c5c4"/><stop offset="0.6875" stop-color="#c0c5c4"/><stop offset="0.7500" stop-color="#bfc5c4"/><stop offset="0.8125" stop-color="#bfc4c3"/><stop offset="0.8750" stop-color="#bec4c3"/><stop offset="0.9375" stop-color="#bec3c2"/><stop offset="1.0000" stop-color="#bdc3c2"/></linearGradient></defs>
<rect x="0" y="0" width="1024" height="9" fill="url(#b0)"/>
<rect x="0" y="8" width="1024" height="9" fill="url(#b1)"/>
<rect x="0" y="16" width="1024" height="9" fill="url(#b2)"/>
<rect x="0" y="24" width="1024" height="9" fill="url(#b3)"/>
<rect x="0" y="32" width="1024" height="9" fill="url(#b4)"/>
<rect x="0" y="40" width="1024" height="9" fill="url(#b5)"/>
<rect x="0" y="48" width="1024" height="9" fill="url(#b6)"/>
<rect x="0" y="56" width="1024" height="9" fill="url(#b7)"/>
<rect x="0" y="64" width="1024" height="9" fill="url(#b8)"/>
<rect x="0" y="72" width="1024" height="9" fill="url(#b9)"/>
<rect x="0" y="80" width="1024" height="9" fill="url(#b10)"/>
<rect x="0" y="88" width="1024" height="9" fill="url(#b11)"/>
<rect x="0" y="96" width="1024" height="9" fill="url(#b12)"/>
<rect x="0" y="104" width="1024" height="9" fill="url(#b13)"/>
<rect x="0" y="112" width="1024" height="9" fill="url(#b14)"/>
<rect x="0" y="120" width="1024" height="9" fill="url(#b15)"/>
<rect x="0" y="128" width="1024" height="9" fill="url(#b16)"/>
<rect x="0" y="136" width="1024" height="9" fill="url(#b17)"/>
<rect x="0" y="144" width="1024" height="9" fill="url(#b18)"/>
<rect x="0" y="152" width="1024" height="9" fill="url(#b19)"/>
<rect x="0" y="160" width="1024" height="9" fill="url(#b20)"/>
<rect x="0" y="168" width="1024" height="9" fill="url(#b21)"/>
<rect x="0" y="176" width="1024" height="9" fill="url(#b22)"/>
<rect x="0" y="184" width="1024" height="9" fill="url(#b23)"/>
<rect x="0" y="192" width="1024" height="9" fill="url(#b24)"/>
<rect x="0" y="200" width="1024" height="9" fill="url(#b25)"/>
<rect x="0" y="208" width="1024" height="9" fill="url(#b26)"/>
<rect x="0" y="216" width="1024" height="9" fill="url(#b27)"/>
<rect x="0" y="224" width="1024" height="9" fill="url(#b28)"/>
<rect x="0" y="232" width="1024" height="9" fill="url(#b29)"/>
<rect x="0" y="240" width="1024" height="9" fill="url(#b30)"/>
<rect x="0" y="248" width="1024" height="9" fill="url(#b31)"/>
<rect x="0" y="256" width="1024" height="9" fill="url(#b32)"/>
<rect x="0" y="264" width="1024" height="9" fill="url(#b33)"/>
<rect x="0" y="272" width="1024" height="9" fill="url(#b34)"/>
<rect x="0" y="280" width="1024" height="9" fill="url(#b35)"/>
<rect x="0" y="288" width="1024" height="9" fill="url(#b36)"/>
<rect x="0" y="296" width="1024" height="9" fill="url(#b37)"/>
<rect x="0" y="304" width="1024" height="9" fill="url(#b38)"/>
<rect x="0" y="312" width="1024" height="9" fill="url(#b39)"/>
<rect x="0" y="320" width="1024" height="9" fill="url(#b40)"/>
<rect x="0" y="328" width="1024" height="9" fill="url(#b41)"/>
<rect x="0" y="336" width="1024" height="9" fill="url(#b42)"/>
<rect x="0" y="344" width="1024" height="9" fill="url(#b43)"/>
<rect x="0" y="352" width="1024" height="9" fill="url(#b44)"/>
<rect x="0" y="360" width="1024" height="9" fill="url(#b45)"/>
<rect x="0" y="368" width="1024" height="9" fill="url(#b46)"/>
<rect x="0" y="376" width="1024" height="9" fill="url(#b47)"/>
<rect x="0" y="384" width="1024" height="9" fill="url(#b48)"/>
<rect x="0" y="392" width="1024" height="9" fill="url(#b49)"/>
<rect x="0" y="400" width="1024" height="9" fill="url(#b50)"/>
<rect x="0" y="408" width="1024" height="9" fill="url(#b51)"/>
<rect x="0" y="416" width="1024" height="9" fill="url(#b52)"/>
<rect x="0" y="424" width="1024" height="9" fill="url(#b53)"/>
<rect x="0" y="432" width="1024" height="9" fill="url(#b54)"/>
<rect x="0" y="440" width="1024" height="9" fill="url(#b55)"/>
<rect x="0" y="448" width="1024" height="9" fill="url(#b56)"/>
<rect x="0" y="456" width="1024" height="9" fill="url(#b57)"/>
<rect x="0" y="464" width="1024" height="9" fill="url(#b58)"/>
<rect x="0" y="472" width="1024" height="9" fill="url(#b59)"/>
<rect x="0" y="480" width="1024" height="9" fill="url(#b60)"/>
<rect x="0" y="488" width="1024" height="9" fill="url(#b61)"/>
<rect x="0" y="496" width="1024" height="9" fill="url(#b62)"/>
<rect x="0" y="504" width="1024" height="9" fill="url(#b63)"/>
<rect x="0" y="512" width="1024" height="9" fill="url(#b64)"/>
<rect x="0" y="520" width="1024" height="9" fill="url(#b65)"/>
<rect x="0" y="528" width="1024" height="9" fill="url(#b66)"/>
<rect x="0" y="536" width="1024" height="9" fill="url(#b67)"/>
<rect x="0" y="544" width="1024" height="9" fill="url(#b68)"/>
<rect x="0" y="552" width="1024" height="9" fill="url(#b69)"/>
<rect x="0" y="560" width="1024" height="9" fill="url(#b70)"/>
<rect x="0" y="568" width="1024" height="9" fill="url(#b71)"/>
<defs><linearGradient id="lb" x1="0" y1="0" x2="1" y2="0"><stop offset="0.35" stop-color="#ecedee" stop-opacity="0"/><stop offset="0.8" stop-color="#ecedee" stop-opacity="1"/><stop offset="1" stop-color="#ecedee" stop-opacity="1"/></linearGradient></defs>
<rect x="690" y="2.4" width="334" height="92.5" fill="url(#lb)"/>
<polygon points="86,0 107.5,0 33.7,443.5 13,440.2" fill="#5b5b5b"/>
<polygon points="111,0 133,0 59,447.8 39,444.3" fill="#71201a"/>
<polygon points="13,440.2 33.7,443.5 155.9,576 114.6,576" fill="#404040" stroke="#404040" stroke-width="0.7" stroke-linejoin="round"/>
<line x1="13.3" y1="440.6" x2="115.2" y2="576.4" stroke="#2c2c2c" stroke-width="1.2" stroke-opacity="0.85"/>
<polygon points="39,444.3 59,447.8 217.3,576 161.4,576" fill="#571710" stroke="#571710" stroke-width="0.7" stroke-linejoin="round"/>
<rect x="84.6" y="346.5" width="120.2" height="58.1" fill="#ffffff" fill-opacity="0.38"/>
<rect x="110.3" y="357" width="8" height="8" fill="#ab3f38"/>
<rect x="110.3" y="386.2" width="8" height="8" fill="#d29c9a"/>
<text x="122.2" y="365.5" font-size="14.4" fill="#757575" textLength="59.8" lengthAdjust="spacingAndGlyphs">Αρνητική</text>
<text x="122.4" y="395.1" font-size="14.4" fill="#757575" textLength="44" lengthAdjust="spacingAndGlyphs">Θετική</text>
<text x="708.6" y="19.4" font-size="15.3" font-weight="bold" fill="#2b2b2b" stroke="#2b2b2b" stroke-width="0.45" stroke-linejoin="round" textLength="101.8" lengthAdjust="spacingAndGlyphs">ΒΟΥΛΕΥΤΙΚΕΣ</text>
<text x="816.2" y="19.4" font-size="15.3" font-weight="bold" fill="#2b2b2b" stroke="#2b2b2b" stroke-width="0.45" stroke-linejoin="round" textLength="67.4" lengthAdjust="spacingAndGlyphs">ΕΚΛΟΓΕΣ</text>
<text x="888.4" y="19.4" font-size="15.3" font-weight="bold" fill="#2b2b2b" stroke="#2b2b2b" stroke-width="0.45" stroke-linejoin="round" textLength="36.4" lengthAdjust="spacingAndGlyphs">2026</text>
<text x="126.3" y="99.4" font-size="16.5" font-weight="bold" fill="#141414" textLength="97.3" lengthAdjust="spacingAndGlyphs">Ανεξάρτητα</text>
<text x="229.3" y="99.4" font-size="16.5" font-weight="bold" fill="#141414" textLength="17.8" lengthAdjust="spacingAndGlyphs">με</text>
<text x="252.9" y="99.4" font-size="16.5" font-weight="bold" fill="#141414" textLength="17.6" lengthAdjust="spacingAndGlyphs">το</text>
<text x="275.8" y="99.4" font-size="16.5" font-weight="bold" fill="#141414" textLength="52.7" lengthAdjust="spacingAndGlyphs">κόμμα</text>
<text x="333.3" y="99.4" font-size="16.5" font-weight="bold" fill="#141414" textLength="29.5" lengthAdjust="spacingAndGlyphs">που</text>
<text x="368.7" y="99.4" font-size="16.5" font-weight="bold" fill="#141414" textLength="83.4" lengthAdjust="spacingAndGlyphs">προτιμάτε</text>
<text x="457.9" y="99.4" font-size="16.5" font-weight="bold" fill="#141414" textLength="8.9" lengthAdjust="spacingAndGlyphs">ή</text>
<text x="472.6" y="99.4" font-size="16.5" font-weight="bold" fill="#141414" textLength="29.2" lengthAdjust="spacingAndGlyphs">που</text>
<text x="508.4" y="99.4" font-size="16.5" font-weight="bold" fill="#141414" textLength="19.6" lengthAdjust="spacingAndGlyphs">θα</text>
<text x="533.8" y="99.4" font-size="16.5" font-weight="bold" fill="#141414" textLength="79.6" lengthAdjust="spacingAndGlyphs">ψηφίσετε</text>
<text x="617.5" y="99.4" font-size="16.5" font-weight="bold" fill="#141414" textLength="31.5" lengthAdjust="spacingAndGlyphs">στις</text>
<text x="654.0" y="99.4" font-size="16.5" font-weight="bold" fill="#141414" textLength="106.0" lengthAdjust="spacingAndGlyphs">επερχόμενες</text>
<text x="764.7" y="99.4" font-size="16.5" font-weight="bold" fill="#141414" textLength="100.1" lengthAdjust="spacingAndGlyphs">βουλευτικές</text>
<text x="869.6" y="99.4" font-size="16.5" font-weight="bold" fill="#141414" textLength="71.3" lengthAdjust="spacingAndGlyphs">εκλογές,</text>
<text x="126.9" y="121.4" font-size="16.5" font-weight="bold" fill="#141414" textLength="71.7" lengthAdjust="spacingAndGlyphs">μπορείτε</text>
<text x="203.9" y="121.4" font-size="16.5" font-weight="bold" fill="#141414" textLength="18.2" lengthAdjust="spacingAndGlyphs">να</text>
<text x="228.9" y="121.4" font-size="16.5" font-weight="bold" fill="#141414" textLength="29.3" lengthAdjust="spacingAndGlyphs">μου</text>
<text x="264.4" y="121.4" font-size="16.5" font-weight="bold" fill="#141414" textLength="39.7" lengthAdjust="spacingAndGlyphs">πείτε</text>
<text x="311.0" y="121.4" font-size="16.5" font-weight="bold" fill="#141414" textLength="28.5" lengthAdjust="spacingAndGlyphs">την</text>
<text x="345.0" y="121.4" font-size="16.5" font-weight="bold" fill="#141414" textLength="54.4" lengthAdjust="spacingAndGlyphs">άποψη</text>
<text x="404.6" y="121.4" font-size="16.5" font-weight="bold" fill="#141414" textLength="28.0" lengthAdjust="spacingAndGlyphs">σας</text>
<text x="437.4" y="121.4" font-size="16.5" font-weight="bold" fill="#141414" textLength="24.5" lengthAdjust="spacingAndGlyphs">για</text>
<text x="466.7" y="121.4" font-size="16.5" font-weight="bold" fill="#141414" textLength="17.6" lengthAdjust="spacingAndGlyphs">τα</text>
<text x="490.5" y="121.4" font-size="16.5" font-weight="bold" fill="#141414" textLength="26.1" lengthAdjust="spacingAndGlyphs">πιο</text>
<text x="522.5" y="121.4" font-size="16.5" font-weight="bold" fill="#141414" textLength="43.0" lengthAdjust="spacingAndGlyphs">κάτω</text>
<text x="570.9" y="121.4" font-size="16.5" font-weight="bold" fill="#141414" textLength="69.9" lengthAdjust="spacingAndGlyphs">πολιτικά</text>
<text x="646.1" y="121.4" font-size="16.5" font-weight="bold" fill="#141414" textLength="83.5" lengthAdjust="spacingAndGlyphs">πρόσωπα;</text>
<text x="126.3" y="143.4" font-size="16.5" font-weight="bold" fill="#141414" textLength="65.6" lengthAdjust="spacingAndGlyphs">ΑΝΝΙΤΑ</text>
<text x="195.8" y="143.4" font-size="16.5" font-weight="bold" fill="#141414" textLength="105.2" lengthAdjust="spacingAndGlyphs">ΔΗΜΗΤΡΙΟΥ</text>
<text x="895.9" y="56.45" font-size="20.4" font-weight="bold" fill="#0a0a0a" stroke="#0a0a0a" stroke-width="0.6" stroke-linejoin="round" textLength="96.4" lengthAdjust="spacingAndGlyphs">EXPLORER</text>
<g opacity="0.88">
<g transform="rotate(-22.8 943.4 52.7)" fill="none" stroke="#87403f" stroke-linecap="round">
<path d="M 893.4 52.7 A 50 9.8 0 0 1 993.4 52.7" stroke-width="0.9"/>
<path d="M 993.4 52.7 A 50 9.8 0 0 1 893.4 52.7" stroke-width="1.7"/>
</g>
<g transform="rotate(-23.9 944 51.1)">
<line x1="883" y1="51.1" x2="1005" y2="51.1" stroke="#87403f" stroke-width="1.4"/>
<polygon points="1008.3,51.1 1001.8,48.9 1001.8,53.3" fill="#87403f"/>
<polygon points="879.7,51.1 886.2,48.9 886.2,53.3" fill="#87403f"/>
</g>
<line x1="934.6" y1="35" x2="952.6" y2="71.4" stroke="#87403f" stroke-width="1.3" stroke-linecap="round"/>
<polygon points="933.5,32.8 933.8,37.4 937.0,35.8" fill="#87403f"/>
<polygon points="953.7,73.6 953.4,69.0 950.2,70.6" fill="#87403f"/>
</g>
<polyline points="192.5,456.6 274.5,467.5 359.7,478.4 448.6,490.1 541.3,502.3 638.0,515.0 739.3,527.9 845.5,540.8" fill="none" stroke="#6c6c6c" stroke-width="0.95"/>
<line x1="192.5" y1="456.6" x2="192.5" y2="461.4" stroke="#6c6c6c" stroke-width="0.95"/>
<line x1="274.5" y1="467.5" x2="274.5" y2="472.3" stroke="#6c6c6c" stroke-width="0.95"/>
<line x1="359.7" y1="478.4" x2="359.7" y2="483.2" stroke="#6c6c6c" stroke-width="0.95"/>
<line x1="448.6" y1="490.1" x2="448.6" y2="494.9" stroke="#6c6c6c" stroke-width="0.95"/>
<line x1="541.3" y1="502.3" x2="541.3" y2="507.1" stroke="#6c6c6c" stroke-width="0.95"/>
<line x1="638.0" y1="515.0" x2="638.0" y2="519.8" stroke="#6c6c6c" stroke-width="0.95"/>
<line x1="739.3" y1="527.9" x2="739.3" y2="532.7" stroke="#6c6c6c" stroke-width="0.95"/>
<line x1="845.5" y1="540.8" x2="845.5" y2="545.6" stroke="#6c6c6c" stroke-width="0.95"/>
<g>
<polygon points="216.6,180.2 272.3,183.2 302.2,175.0 248.1,171.5" fill="#8e3f39"/>
<polygon points="272.3,183.2 302.2,175.0 304.2,242.6 275.4,252.2" fill="#803c36"/>
<polygon points="275.4,252.2 304.2,242.6 310.0,434.9 284.2,450.7" fill="#8c6b6c"/>
<polygon points="216.6,180.2 272.3,183.2 275.4,252.2 220.3,248.4" fill="#b24b42"/>
<polygon points="220.3,248.4 275.4,252.2 284.2,450.7 230.8,444.1" fill="#c99996"/>
<polygon points="220.3,248.4 275.4,252.2 274.8,240.0 252.0,238.0" fill="#a7362f"/>
<polygon points="275.4,252.2 304.2,242.6 274.8,240.0" fill="#752823"/>
<line x1="216.6" y1="180.2" x2="272.3" y2="183.2" stroke="#f0c9c4" stroke-opacity="0.80" stroke-width="0.8"/>
<line x1="272.3" y1="183.2" x2="302.2" y2="175.0" stroke="#f0c9c4" stroke-opacity="0.70" stroke-width="0.8"/>
<line x1="272.3" y1="183.2" x2="284.2" y2="450.7" stroke="#f0c9c4" stroke-opacity="0.75" stroke-width="0.8"/>
<line x1="220.3" y1="248.4" x2="275.4" y2="252.2" stroke="#f0c9c4" stroke-opacity="0.70" stroke-width="0.8"/>
<line x1="275.4" y1="252.2" x2="304.2" y2="242.6" stroke="#f0c9c4" stroke-opacity="0.70" stroke-width="0.8"/>
<line x1="216.6" y1="180.2" x2="230.8" y2="444.1" stroke="#f0c9c4" stroke-opacity="0.35" stroke-width="0.8"/>
<line x1="248.1" y1="171.5" x2="302.2" y2="175.0" stroke="#f0c9c4" stroke-opacity="0.25" stroke-width="0.8"/>
<line x1="302.2" y1="175.0" x2="310.0" y2="434.9" stroke="#f0c9c4" stroke-opacity="0.25" stroke-width="0.8"/>
</g>
<g>
<polygon points="301.7,205.4 358.8,209.3 386.7,199.5 331.0,196.0" fill="#8e3f39"/>
<polygon points="358.8,209.3 386.7,199.5 390.4,355.2 363.9,370.0" fill="#803c36"/>
<polygon points="363.9,370.0 390.4,355.2 392.5,443.6 366.8,460.8" fill="#8c6b6c"/>
<polygon points="301.7,205.4 358.8,209.3 363.9,370.0 307.7,364.9" fill="#b24b42"/>
<polygon points="307.7,364.9 363.9,370.0 366.8,460.8 311.1,454.5" fill="#c99996"/>
<polygon points="307.7,364.9 363.9,370.0 363.4,352.5 336.9,349.9" fill="#a7362f"/>
<polygon points="363.9,370.0 390.4,355.2 363.4,352.5" fill="#752823"/>
<line x1="301.7" y1="205.4" x2="358.8" y2="209.3" stroke="#f0c9c4" stroke-opacity="0.80" stroke-width="0.8"/>
<line x1="358.8" y1="209.3" x2="386.7" y2="199.5" stroke="#f0c9c4" stroke-opacity="0.70" stroke-width="0.8"/>
<line x1="358.8" y1="209.3" x2="366.8" y2="460.8" stroke="#f0c9c4" stroke-opacity="0.75" stroke-width="0.8"/>
<line x1="307.7" y1="364.9" x2="363.9" y2="370.0" stroke="#f0c9c4" stroke-opacity="0.70" stroke-width="0.8"/>
<line x1="363.9" y1="370.0" x2="390.4" y2="355.2" stroke="#f0c9c4" stroke-opacity="0.70" stroke-width="0.8"/>
<line x1="301.7" y1="205.4" x2="311.1" y2="454.5" stroke="#f0c9c4" stroke-opacity="0.35" stroke-width="0.8"/>
<line x1="331.0" y1="196.0" x2="386.7" y2="199.5" stroke="#f0c9c4" stroke-opacity="0.25" stroke-width="0.8"/>
<line x1="386.7" y1="199.5" x2="392.5" y2="443.6" stroke="#f0c9c4" stroke-opacity="0.25" stroke-width="0.8"/>
<line x1="302.9" y1="206.0" x2="308.9" y2="364.9" stroke="#b3392f" stroke-width="1.5"/>
<line x1="308.9" y1="365.4" x2="312.3" y2="454.2" stroke="#bf8d8a" stroke-width="1.5"/>
<line x1="301.7" y1="205.4" x2="311.1" y2="454.5" stroke="#f0c9c4" stroke-opacity="0.60" stroke-width="0.8"/>
</g>
<g>
<polygon points="389.2,217.1 449.2,221.0 473.6,210.9 416.0,207.0" fill="#8e3f39"/>
<polygon points="449.2,221.0 473.6,210.9 475.0,341.5 451.0,356.1" fill="#803c36"/>
<polygon points="451.0,356.1 475.0,341.5 476.1,452.6 452.5,471.5" fill="#8c6b6c"/>
<polygon points="389.2,217.1 449.2,221.0 451.0,356.1 392.6,350.9" fill="#b24b42"/>
<polygon points="392.6,350.9 451.0,356.1 452.5,471.5 395.5,464.3" fill="#c99996"/>
<polygon points="392.6,350.9 451.0,356.1 450.8,339.2 418.9,336.2" fill="#a7362f"/>
<polygon points="451.0,356.1 475.0,341.5 450.8,339.2" fill="#752823"/>
<line x1="389.2" y1="217.1" x2="449.2" y2="221.0" stroke="#f0c9c4" stroke-opacity="0.80" stroke-width="0.8"/>
<line x1="449.2" y1="221.0" x2="473.6" y2="210.9" stroke="#f0c9c4" stroke-opacity="0.70" stroke-width="0.8"/>
<line x1="449.2" y1="221.0" x2="452.5" y2="471.5" stroke="#f0c9c4" stroke-opacity="0.75" stroke-width="0.8"/>
<line x1="392.6" y1="350.9" x2="451.0" y2="356.1" stroke="#f0c9c4" stroke-opacity="0.70" stroke-width="0.8"/>
<line x1="451.0" y1="356.1" x2="475.0" y2="341.5" stroke="#f0c9c4" stroke-opacity="0.70" stroke-width="0.8"/>
<line x1="389.2" y1="217.1" x2="395.5" y2="464.3" stroke="#f0c9c4" stroke-opacity="0.35" stroke-width="0.8"/>
<line x1="416.0" y1="207.0" x2="473.6" y2="210.9" stroke="#f0c9c4" stroke-opacity="0.25" stroke-width="0.8"/>
<line x1="473.6" y1="210.9" x2="476.1" y2="452.6" stroke="#f0c9c4" stroke-opacity="0.25" stroke-width="0.8"/>
</g>
<g>
<polygon points="480.2,211.1 542.7,215.0 564.7,204.6 504.2,200.7" fill="#8e3f39"/>
<polygon points="542.7,215.0 564.7,204.6 563.8,367.3 542.8,382.6" fill="#803c36"/>
<polygon points="542.8,382.6 563.8,367.3 563.2,461.6 542.9,482.7" fill="#8c6b6c"/>
<polygon points="480.2,211.1 542.7,215.0 542.8,382.6 481.8,377.1" fill="#b24b42"/>
<polygon points="481.8,377.1 542.8,382.6 542.9,482.7 482.7,475.5" fill="#c99996"/>
<polygon points="481.8,377.1 542.8,382.6 542.8,365.1 505.2,361.1" fill="#a7362f"/>
<polygon points="542.8,382.6 563.8,367.3 542.8,365.1" fill="#752823"/>
<line x1="480.2" y1="211.1" x2="542.7" y2="215.0" stroke="#f0c9c4" stroke-opacity="0.80" stroke-width="0.8"/>
<line x1="542.7" y1="215.0" x2="564.7" y2="204.6" stroke="#f0c9c4" stroke-opacity="0.70" stroke-width="0.8"/>
<line x1="542.7" y1="215.0" x2="542.9" y2="482.7" stroke="#f0c9c4" stroke-opacity="0.75" stroke-width="0.8"/>
<line x1="481.8" y1="377.1" x2="542.8" y2="382.6" stroke="#f0c9c4" stroke-opacity="0.70" stroke-width="0.8"/>
<line x1="542.8" y1="382.6" x2="563.8" y2="367.3" stroke="#f0c9c4" stroke-opacity="0.70" stroke-width="0.8"/>
<line x1="480.2" y1="211.1" x2="482.7" y2="475.5" stroke="#f0c9c4" stroke-opacity="0.35" stroke-width="0.8"/>
<line x1="504.2" y1="200.7" x2="564.7" y2="204.6" stroke="#f0c9c4" stroke-opacity="0.25" stroke-width="0.8"/>
<line x1="564.7" y1="204.6" x2="563.2" y2="461.6" stroke="#f0c9c4" stroke-opacity="0.25" stroke-width="0.8"/>
</g>
<g>
<polygon points="575.5,232.6 640.5,236.9 659.1,225.5 596.0,221.3" fill="#8e3f39"/>
<polygon points="640.5,236.9 659.1,225.5 655.8,387.5 638.0,404.1" fill="#803c36"/>
<polygon points="638.0,404.1 655.8,387.5 654.0,473.9 636.6,494.5" fill="#8c6b6c"/>
<polygon points="575.5,232.6 640.5,236.9 638.0,404.1 574.5,398.0" fill="#b24b42"/>
<polygon points="574.5,398.0 638.0,404.1 636.6,494.5 573.9,487.0" fill="#c99996"/>
<polygon points="574.5,398.0 638.0,404.1 638.2,385.7 595.0,381.4" fill="#a7362f"/>
<polygon points="638.0,404.1 655.8,387.5 638.2,385.7" fill="#752823"/>
<line x1="575.5" y1="232.6" x2="640.5" y2="236.9" stroke="#f0c9c4" stroke-opacity="0.80" stroke-width="0.8"/>
<line x1="640.5" y1="236.9" x2="659.1" y2="225.5" stroke="#f0c9c4" stroke-opacity="0.70" stroke-width="0.8"/>
<line x1="640.5" y1="236.9" x2="636.6" y2="494.5" stroke="#f0c9c4" stroke-opacity="0.75" stroke-width="0.8"/>
<line x1="574.5" y1="398.0" x2="638.0" y2="404.1" stroke="#f0c9c4" stroke-opacity="0.70" stroke-width="0.8"/>
<line x1="638.0" y1="404.1" x2="655.8" y2="387.5" stroke="#f0c9c4" stroke-opacity="0.70" stroke-width="0.8"/>
<line x1="575.5" y1="232.6" x2="573.9" y2="487.0" stroke="#f0c9c4" stroke-opacity="0.35" stroke-width="0.8"/>
<line x1="596.0" y1="221.3" x2="659.1" y2="225.5" stroke="#f0c9c4" stroke-opacity="0.25" stroke-width="0.8"/>
<line x1="659.1" y1="225.5" x2="654.0" y2="473.9" stroke="#f0c9c4" stroke-opacity="0.25" stroke-width="0.8"/>
</g>
<g>
<polygon points="673.6,302.1 741.4,307.5 755.4,293.1 690.8,287.7" fill="#8e3f39"/>
<polygon points="741.4,307.5 755.4,293.1 751.8,391.1 737.9,408.8" fill="#803c36"/>
<polygon points="737.9,408.8 751.8,391.1 748.4,485.5 734.6,507.0" fill="#8c6b6c"/>
<polygon points="673.6,302.1 741.4,307.5 737.9,408.8 671.2,402.3" fill="#b24b42"/>
<polygon points="671.2,402.3 737.9,408.8 734.6,507.0 668.9,499.1" fill="#c99996"/>
<polygon points="671.2,402.3 737.9,408.8 738.6,389.9 688.0,385.1" fill="#a7362f"/>
<polygon points="737.9,408.8 751.8,391.1 738.6,389.9" fill="#752823"/>
<line x1="673.6" y1="302.1" x2="741.4" y2="307.5" stroke="#f0c9c4" stroke-opacity="0.80" stroke-width="0.8"/>
<line x1="741.4" y1="307.5" x2="755.4" y2="293.1" stroke="#f0c9c4" stroke-opacity="0.70" stroke-width="0.8"/>
<line x1="741.4" y1="307.5" x2="734.6" y2="507.0" stroke="#f0c9c4" stroke-opacity="0.75" stroke-width="0.8"/>
<line x1="671.2" y1="402.3" x2="737.9" y2="408.8" stroke="#f0c9c4" stroke-opacity="0.70" stroke-width="0.8"/>
<line x1="737.9" y1="408.8" x2="751.8" y2="391.1" stroke="#f0c9c4" stroke-opacity="0.70" stroke-width="0.8"/>
<line x1="673.6" y1="302.1" x2="668.9" y2="499.1" stroke="#f0c9c4" stroke-opacity="0.35" stroke-width="0.8"/>
<line x1="690.8" y1="287.7" x2="755.4" y2="293.1" stroke="#f0c9c4" stroke-opacity="0.25" stroke-width="0.8"/>
<line x1="755.4" y1="293.1" x2="748.4" y2="485.5" stroke="#f0c9c4" stroke-opacity="0.25" stroke-width="0.8"/>
</g>
<g>
<polygon points="778.8,252.4 850.5,257.6 860.6,245.1 791.8,240.1" fill="#8e3f39"/>
<polygon points="850.5,257.6 860.6,245.1 849.6,449.2 839.4,468.4" fill="#803c36"/>
<polygon points="839.4,468.4 849.6,449.2 847.0,498.4 836.7,520.0" fill="#8c6b6c"/>
<polygon points="778.8,252.4 850.5,257.6 839.4,468.4 769.9,461.1" fill="#b24b42"/>
<polygon points="769.9,461.1 839.4,468.4 836.7,520.0 767.8,511.8" fill="#c99996"/>
<polygon points="769.9,461.1 839.4,468.4 840.5,448.1 783.8,441.0" fill="#a7362f"/>
<polygon points="839.4,468.4 849.6,449.2 840.5,448.1" fill="#752823"/>
<line x1="778.8" y1="252.4" x2="850.5" y2="257.6" stroke="#f0c9c4" stroke-opacity="0.80" stroke-width="0.8"/>
<line x1="850.5" y1="257.6" x2="860.6" y2="245.1" stroke="#f0c9c4" stroke-opacity="0.70" stroke-width="0.8"/>
<line x1="850.5" y1="257.6" x2="836.7" y2="520.0" stroke="#f0c9c4" stroke-opacity="0.75" stroke-width="0.8"/>
<line x1="769.9" y1="461.1" x2="839.4" y2="468.4" stroke="#f0c9c4" stroke-opacity="0.70" stroke-width="0.8"/>
<line x1="839.4" y1="468.4" x2="849.6" y2="449.2" stroke="#f0c9c4" stroke-opacity="0.70" stroke-width="0.8"/>
<line x1="778.8" y1="252.4" x2="767.8" y2="511.8" stroke="#f0c9c4" stroke-opacity="0.35" stroke-width="0.8"/>
<line x1="791.8" y1="240.1" x2="860.6" y2="245.1" stroke="#f0c9c4" stroke-opacity="0.25" stroke-width="0.8"/>
<line x1="860.6" y1="245.1" x2="847.0" y2="498.4" stroke="#f0c9c4" stroke-opacity="0.25" stroke-width="0.8"/>
</g>
<text x="245.8" y="221.7" font-size="13.8" fill="#f1dfdc" text-anchor="middle">24</text>
<text x="252.5" y="355.0" font-size="13.8" fill="#3a2b2b" text-anchor="middle">72</text>
<text x="332.9" y="293.4" font-size="13.8" fill="#f1dfdc" text-anchor="middle">56</text>
<text x="337.4" y="418.0" font-size="13.8" fill="#3a2b2b" text-anchor="middle">33</text>
<text x="420.2" y="292.0" font-size="13.8" fill="#f1dfdc" text-anchor="middle">46</text>
<text x="422.3" y="417.0" font-size="13.8" fill="#3a2b2b" text-anchor="middle">41</text>
<text x="511.6" y="302.0" font-size="13.8" fill="#f1dfdc" text-anchor="middle">56</text>
<text x="512.0" y="435.7" font-size="13.8" fill="#3a2b2b" text-anchor="middle">35</text>
<text x="606.7" y="324.0" font-size="13.8" fill="#f1dfdc" text-anchor="middle">55</text>
<text x="605.0" y="451.9" font-size="13.8" fill="#3a2b2b" text-anchor="middle">31</text>
<text x="705.5" y="360.2" font-size="13.8" fill="#f1dfdc" text-anchor="middle">33</text>
<text x="702.3" y="460.4" font-size="13.8" fill="#3a2b2b" text-anchor="middle">33</text>
<text x="808.5" y="366.2" font-size="13.8" fill="#f1dfdc" text-anchor="middle">67</text>
<text x="803.4" y="496.3" font-size="13.8" fill="#3a2b2b" text-anchor="middle">17</text>
<text x="214.4" y="488.8" font-size="15.5" fill="#2e2e2e" textLength="38.3" lengthAdjust="spacingAndGlyphs">ΔΗΣΥ</text>
<text x="298.8" y="499.6" font-size="15.5" fill="#2e2e2e" textLength="36.5" lengthAdjust="spacingAndGlyphs">ΑΚΕΛ</text>
<text x="383.4" y="511.6" font-size="15.5" fill="#2e2e2e" textLength="41.0" lengthAdjust="spacingAndGlyphs">ΔΗΚΟ</text>
<text x="474.9" y="522.8" font-size="15.5" fill="#2e2e2e" textLength="39.6" lengthAdjust="spacingAndGlyphs">ΕΛΑΜ</text>
<text x="572.5" y="535.1" font-size="15.5" fill="#2e2e2e" textLength="34.2" lengthAdjust="spacingAndGlyphs">ΕΔΕΚ</text>
<text x="667.7" y="548.4" font-size="15.5" fill="#2e2e2e" textLength="41.1" lengthAdjust="spacingAndGlyphs">ΔΗΠΑ</text>
<text x="751.8" y="564.2" font-size="15.5" fill="#2e2e2e" textLength="80.1" lengthAdjust="spacingAndGlyphs">ΟΙΚΟΛΟΓΟΙ</text>
</svg>
</body></html>
